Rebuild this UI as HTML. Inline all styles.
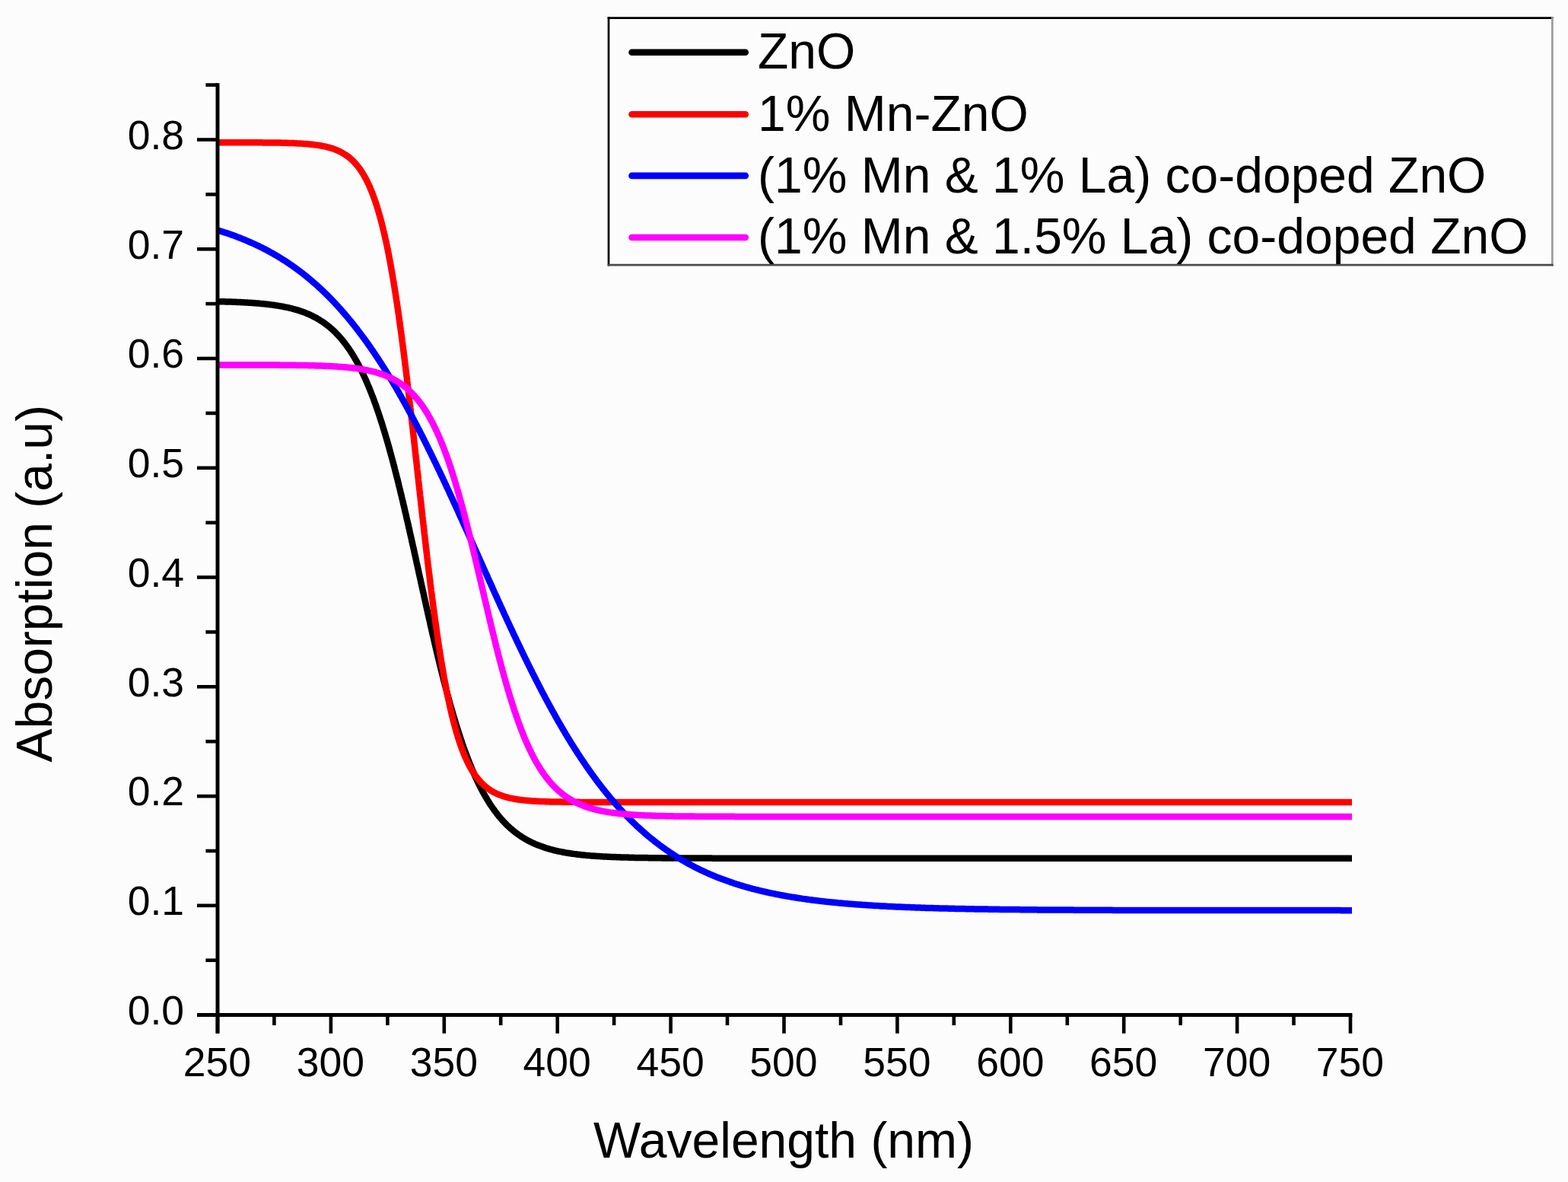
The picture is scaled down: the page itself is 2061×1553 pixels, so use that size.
<!DOCTYPE html>
<html><head><meta charset="utf-8"><title>Absorption spectra</title>
<style>
html,body{margin:0;padding:0;background:#fff;}
body{width:2061px;height:1553px;overflow:hidden;}
svg{display:block;}
text{font-family:"Liberation Sans",Arial,sans-serif;fill:#000;}
</style></head><body>
<svg width="2061" height="1553" viewBox="0 0 2061 1553">
<rect x="0" y="0" width="2061" height="1553" fill="#fcfcfc"/>

<g fill="none" stroke-width="8.5" stroke-linejoin="round" stroke-linecap="butt">
<path d="M286.0,396.1 L287.6,396.2 L289.1,396.2 L290.5,396.2 L292.0,396.3 L293.5,396.3 L295.0,396.3 L296.5,396.4 L298.0,396.4 L299.6,396.5 L301.1,396.5 L302.6,396.6 L304.0,396.6 L305.5,396.7 L307.0,396.7 L308.5,396.8 L310.0,396.8 L311.5,396.9 L313.0,397.0 L314.6,397.0 L316.0,397.1 L317.5,397.2 L319.0,397.2 L320.5,397.3 L322.0,397.4 L323.5,397.5 L325.0,397.6 L326.5,397.7 L328.0,397.8 L329.5,397.8 L331.0,398.0 L332.5,398.1 L334.0,398.2 L335.5,398.3 L337.0,398.4 L338.5,398.5 L340.0,398.6 L341.5,398.8 L343.0,398.9 L344.5,399.0 L345.9,399.2 L347.4,399.3 L348.9,399.5 L350.4,399.7 L351.9,399.8 L353.4,400.0 L354.9,400.2 L356.4,400.4 L357.9,400.6 L359.4,400.8 L360.9,401.0 L362.3,401.2 L363.8,401.4 L365.3,401.7 L366.7,401.9 L368.2,402.2 L369.7,402.4 L371.2,402.7 L372.7,403.0 L374.1,403.3 L375.6,403.6 L377.1,403.9 L378.5,404.2 L380.0,404.5 L381.4,404.9 L382.9,405.2 L384.4,405.6 L385.8,406.0 L387.2,406.4 L388.7,406.8 L390.2,407.2 L391.6,407.6 L393.0,408.1 L394.5,408.6 L395.9,409.1 L397.3,409.5 L398.7,410.1 L400.1,410.6 L401.5,411.1 L402.9,411.7 L404.2,412.2 L405.7,412.8 L407.0,413.4 L408.4,414.1 L409.8,414.7 L411.1,415.4 L412.4,416.1 L413.8,416.8 L415.1,417.4 L416.4,418.2 L417.7,419.0 L419.0,419.7 L420.3,420.5 L421.5,421.3 L422.8,422.1 L424.1,422.9 L425.3,423.8 L426.5,424.6 L427.7,425.5 L428.9,426.4 L430.1,427.3 L431.3,428.3 L432.5,429.2 L433.6,430.2 L434.7,431.1 L435.9,432.1 L437.0,433.1 L438.1,434.1 L439.2,435.2 L440.3,436.2 L441.4,437.3 L442.4,438.4 L443.5,439.5 L444.4,440.5 L445.5,441.6 L446.4,442.7 L447.5,443.9 L448.5,445.0 L449.4,446.2 L450.4,447.4 L451.3,448.5 L452.3,449.7 L453.1,450.8 L454.0,452.0 L454.9,453.2 L455.8,454.4 L456.7,455.7 L457.6,457.0 L458.4,458.1 L459.3,459.3 L460.2,460.7 L461.0,461.9 L461.8,463.2 L462.5,464.4 L463.4,465.7 L464.2,467.0 L464.9,468.2 L465.7,469.5 L466.4,470.8 L467.2,472.2 L468.0,473.5 L468.7,474.7 L469.4,476.0 L470.1,477.4 L470.8,478.6 L471.6,480.1 L472.2,481.3 L472.9,482.6 L473.6,483.9 L474.3,485.4 L474.9,486.6 L475.6,488.0 L476.3,489.4 L476.9,490.8 L477.5,492.0 L478.2,493.5 L478.8,494.8 L479.5,496.2 L480.1,497.5 L480.7,498.9 L481.3,500.2 L481.9,501.8 L482.5,503.1 L483.0,504.4 L483.6,505.8 L484.2,507.2 L484.8,508.6 L485.4,509.9 L486.0,511.4 L486.5,512.8 L487.1,514.1 L487.6,515.5 L488.2,517.0 L488.7,518.3 L489.2,519.7 L489.8,521.0 L490.4,522.6 L490.9,524.0 L491.4,525.4 L491.9,526.8 L492.4,528.3 L492.9,529.5 L493.4,530.9 L493.9,532.4 L494.5,533.9 L494.9,535.2 L495.4,536.6 L495.9,538.2 L496.4,539.5 L496.9,541.0 L497.4,542.3 L497.9,543.9 L498.3,545.2 L498.8,546.5 L499.3,548.1 L499.7,549.5 L500.2,550.9 L500.6,552.3 L501.1,553.7 L501.6,555.3 L502.1,556.7 L502.5,558.1 L503.0,559.6 L503.4,561.0 L503.8,562.4 L504.2,563.7 L504.7,565.1 L505.1,566.6 L505.6,568.1 L506.0,569.6 L506.5,571.1 L506.8,572.3 L507.3,573.8 L507.7,575.4 L508.1,576.6 L508.5,578.2 L509.0,579.7 L509.4,581.0 L509.8,582.6 L510.2,583.9 L510.6,585.5 L511.0,586.8 L511.5,588.4 L511.8,589.7 L512.2,591.1 L512.6,592.7 L513.0,594.0 L513.4,595.4 L513.8,597.0 L514.2,598.4 L514.6,599.8 L515.0,601.2 L515.4,602.8 L515.8,604.2 L516.1,605.6 L516.5,607.0 L516.9,608.4 L517.3,609.9 L517.7,611.6 L518.1,613.0 L518.5,614.4 L518.8,615.9 L519.2,617.3 L519.6,618.8 L519.9,620.2 L520.3,621.7 L520.7,623.1 L521.1,624.6 L521.4,626.1 L521.8,627.6 L522.1,628.7 L522.5,630.2 L522.9,631.7 L523.2,633.2 L523.6,634.7 L524.0,636.2 L524.3,637.7 L524.6,639.0 L525.0,640.5 L525.4,642.0 L525.8,643.5 L526.1,644.8 L526.4,646.3 L526.8,647.8 L527.2,649.4 L527.5,650.6 L527.9,652.2 L528.2,653.7 L528.5,655.0 L528.9,656.5 L529.3,658.1 L529.6,659.4 L529.9,660.9 L530.3,662.5 L530.6,663.8 L531.0,665.4 L531.3,666.6 L531.7,668.2 L532.0,669.8 L532.3,671.1 L532.7,672.7 L533.0,674.0 L533.4,675.6 L533.7,676.9 L534.0,678.5 L534.3,679.8 L534.7,681.4 L535.0,682.7 L535.4,684.4 L535.7,685.7 L536.1,687.3 L536.4,688.6 L536.7,690.2 L537.0,691.5 L537.4,693.2 L537.7,694.5 L538.1,696.1 L538.4,697.5 L538.7,699.1 L539.0,700.4 L539.3,701.8 L539.7,703.4 L540.0,704.7 L540.4,706.4 L540.7,707.7 L541.0,709.1 L541.3,710.7 L541.6,712.1 L542.0,713.7 L542.3,715.1 L542.6,716.4 L543.0,718.1 L543.3,719.4 L543.6,720.8 L544.0,722.4 L544.3,723.8 L544.6,725.5 L544.9,726.8 L545.2,728.1 L545.6,729.8 L545.9,731.2 L546.2,732.5 L546.6,734.2 L546.9,735.6 L547.2,736.9 L547.5,738.6 L547.8,740.0 L548.1,741.3 L548.5,743.0 L548.8,744.3 L549.1,745.7 L549.5,747.4 L549.8,748.7 L550.1,750.1 L550.4,751.8 L550.7,753.1 L551.0,754.5 L551.4,756.2 L551.7,757.5 L552.0,758.9 L552.4,760.6 L552.7,761.9 L553.0,763.3 L553.3,765.0 L553.6,766.3 L553.9,767.7 L554.3,769.4 L554.6,770.7 L554.9,772.1 L555.3,773.8 L555.6,775.1 L555.9,776.5 L556.3,778.2 L556.6,779.5 L556.9,780.9 L557.2,782.5 L557.5,783.9 L557.8,785.2 L558.2,786.9 L558.5,788.3 L558.8,789.6 L559.2,791.3 L559.5,792.6 L559.8,794.3 L560.1,795.6 L560.4,797.0 L560.8,798.6 L561.1,800.0 L561.4,801.3 L561.8,803.0 L562.1,804.3 L562.4,806.0 L562.7,807.3 L563.1,809.0 L563.4,810.3 L563.7,811.6 L564.1,813.3 L564.4,814.6 L564.8,816.2 L565.1,817.5 L565.4,819.2 L565.7,820.5 L566.0,821.8 L566.4,823.4 L566.7,824.7 L567.1,826.4 L567.4,827.7 L567.7,829.3 L568.0,830.6 L568.4,832.2 L568.7,833.5 L569.1,835.1 L569.4,836.4 L569.8,838.0 L570.1,839.6 L570.4,840.9 L570.8,842.5 L571.1,843.8 L571.5,845.4 L571.8,846.6 L572.1,848.2 L572.5,849.8 L572.8,851.1 L573.2,852.7 L573.6,854.2 L573.9,855.5 L574.2,857.0 L574.6,858.6 L574.9,859.9 L575.3,861.4 L575.6,863.0 L575.9,864.2 L576.3,865.7 L576.7,867.3 L577.1,868.8 L577.4,870.0 L577.7,871.6 L578.1,873.1 L578.5,874.6 L578.8,876.1 L579.1,877.3 L579.5,878.8 L579.9,880.3 L580.3,881.8 L580.6,883.3 L581.0,884.8 L581.4,886.3 L581.8,887.7 L582.1,888.9 L582.4,890.4 L582.8,891.8 L583.2,893.3 L583.5,894.7 L583.9,896.2 L584.3,897.6 L584.7,899.4 L585.1,900.8 L585.5,902.2 L585.9,903.6 L586.2,905.0 L586.6,906.5 L587.0,907.9 L587.3,909.3 L587.8,910.9 L588.2,912.3 L588.5,913.7 L588.9,915.1 L589.4,916.7 L589.7,918.1 L590.1,919.4 L590.6,921.1 L590.9,922.4 L591.3,923.7 L591.7,925.3 L592.1,926.7 L592.6,928.3 L592.9,929.6 L593.4,931.1 L593.8,932.4 L594.2,934.0 L594.6,935.3 L595.0,936.8 L595.5,938.4 L595.8,939.6 L596.3,941.2 L596.7,942.7 L597.1,943.9 L597.6,945.4 L598.0,946.9 L598.5,948.4 L598.9,949.8 L599.3,951.1 L599.7,952.5 L600.2,954.0 L600.6,955.4 L601.1,956.8 L601.5,958.2 L602.0,959.6 L602.5,961.3 L602.9,962.7 L603.4,964.1 L603.8,965.4 L604.3,966.8 L604.8,968.4 L605.2,969.7 L605.7,971.1 L606.2,972.6 L606.7,973.9 L607.2,975.5 L607.6,976.8 L608.1,978.3 L608.7,979.8 L609.1,981.1 L609.6,982.5 L610.2,984.0 L610.6,985.2 L611.1,986.7 L611.7,988.1 L612.2,989.5 L612.7,990.9 L613.2,992.3 L613.7,993.7 L614.3,995.1 L614.9,996.7 L615.4,998.0 L615.9,999.3 L616.4,1000.7 L617.0,1002.2 L617.5,1003.5 L618.1,1005.0 L618.7,1006.2 L619.3,1007.7 L619.9,1009.1 L620.4,1010.6 L621.0,1011.8 L621.6,1013.2 L622.2,1014.6 L622.8,1015.9 L623.4,1017.3 L624.0,1018.8 L624.6,1020.1 L625.2,1021.4 L625.9,1022.9 L626.5,1024.2 L627.2,1025.6 L627.8,1026.8 L628.4,1028.2 L629.1,1029.6 L629.8,1031.0 L630.4,1032.3 L631.1,1033.6 L631.8,1035.0 L632.5,1036.3 L633.1,1037.5 L633.9,1038.9 L634.5,1040.2 L635.3,1041.6 L636.0,1042.9 L636.8,1044.2 L637.5,1045.6 L638.3,1046.8 L639.0,1048.1 L639.8,1049.4 L640.5,1050.6 L641.3,1052.0 L642.1,1053.2 L642.9,1054.5 L643.7,1055.8 L644.5,1057.0 L645.3,1058.3 L646.2,1059.5 L647.1,1060.8 L647.9,1062.0 L648.8,1063.2 L649.6,1064.4 L650.5,1065.6 L651.4,1066.8 L652.3,1068.0 L653.3,1069.2 L654.1,1070.4 L655.1,1071.6 L656.0,1072.7 L657.0,1073.9 L657.9,1075.0 L658.9,1076.1 L660.0,1077.3 L660.9,1078.4 L662.0,1079.5 L663.0,1080.6 L664.1,1081.7 L665.1,1082.7 L666.1,1083.8 L667.2,1084.8 L668.3,1085.9 L669.4,1086.9 L670.5,1087.9 L671.7,1088.9 L672.8,1089.9 L673.9,1090.8 L675.1,1091.8 L676.3,1092.7 L677.4,1093.6 L678.6,1094.5 L679.9,1095.5 L681.1,1096.3 L682.3,1097.2 L683.5,1098.0 L684.8,1098.9 L686.1,1099.7 L687.3,1100.5 L688.6,1101.3 L689.9,1102.0 L691.1,1102.8 L692.5,1103.5 L693.8,1104.2 L695.1,1104.9 L696.4,1105.6 L697.8,1106.3 L699.1,1106.9 L700.5,1107.6 L701.9,1108.2 L703.2,1108.8 L704.6,1109.4 L706.0,1110.0 L707.4,1110.5 L708.8,1111.1 L710.2,1111.6 L711.6,1112.1 L713.0,1112.6 L714.4,1113.1 L715.9,1113.6 L717.3,1114.1 L718.7,1114.5 L720.1,1114.9 L721.5,1115.3 L723.0,1115.8 L724.5,1116.1 L725.9,1116.5 L727.4,1116.9 L728.8,1117.3 L730.3,1117.6 L731.8,1118.0 L733.2,1118.3 L734.7,1118.6 L736.2,1118.9 L737.6,1119.2 L739.1,1119.5 L740.6,1119.8 L742.0,1120.0 L743.5,1120.3 L745.0,1120.6 L746.4,1120.8 L747.9,1121.0 L749.4,1121.2 L750.9,1121.5 L752.4,1121.7 L753.9,1121.9 L755.4,1122.1 L756.9,1122.3 L758.4,1122.5 L759.9,1122.7 L761.4,1122.8 L762.8,1123.0 L764.3,1123.2 L765.8,1123.3 L767.3,1123.5 L768.8,1123.6 L770.3,1123.8 L771.8,1123.9 L773.3,1124.0 L774.8,1124.1 L776.3,1124.3 L777.8,1124.4 L779.2,1124.5 L780.7,1124.6 L782.2,1124.7 L783.7,1124.8 L785.2,1124.9 L786.7,1125.0 L788.2,1125.1 L789.8,1125.2 L791.3,1125.3 L792.7,1125.4 L794.2,1125.5 L795.7,1125.5 L797.2,1125.6 L798.7,1125.7 L800.2,1125.8 L801.7,1125.8 L803.2,1125.9 L804.7,1126.0 L806.2,1126.0 L807.7,1126.1 L809.2,1126.1 L810.7,1126.2 L812.2,1126.2 L813.7,1126.3 L815.2,1126.3 L816.7,1126.4 L818.2,1126.4 L819.7,1126.5 L821.2,1126.5 L822.7,1126.6 L824.2,1126.6 L825.7,1126.6 L827.2,1126.7 L828.7,1126.7 L830.2,1126.8 L831.7,1126.8 L833.2,1126.8 L834.7,1126.9 L836.2,1126.9 L837.7,1126.9 L839.2,1126.9 L840.7,1127.0 L842.2,1127.0 L843.7,1127.0 L845.2,1127.0 L846.7,1127.1 L848.2,1127.1 L849.7,1127.1 L851.2,1127.1 L852.7,1127.2 L854.2,1127.2 L855.7,1127.2 L857.2,1127.2 L858.7,1127.2 L860.2,1127.2 L861.7,1127.3 L863.2,1127.3 L864.7,1127.3 L866.2,1127.3 L867.7,1127.3 L869.2,1127.3 L870.7,1127.4 L872.2,1127.4 L873.7,1127.4 L875.2,1127.4 L876.7,1127.4 L878.2,1127.4 L879.7,1127.4 L881.2,1127.4 L882.7,1127.4 L884.2,1127.5 L885.7,1127.5 L887.2,1127.5 L888.7,1127.5 L890.2,1127.5 L891.7,1127.5 L893.2,1127.5 L894.7,1127.5 L896.2,1127.5 L897.7,1127.5 L899.2,1127.5 L900.7,1127.5 L902.2,1127.6 L903.7,1127.6 L905.2,1127.6 L906.7,1127.6 L908.2,1127.6 L909.7,1127.6 L911.2,1127.6 L912.7,1127.6 L914.2,1127.6 L915.7,1127.6 L917.2,1127.6 L918.7,1127.6 L920.2,1127.6 L921.7,1127.6 L923.2,1127.6 L924.7,1127.6 L926.2,1127.6 L927.7,1127.6 L929.2,1127.6 L930.7,1127.6 L932.2,1127.6 L933.7,1127.6 L935.2,1127.6 L936.7,1127.7 L938.2,1127.7 L939.7,1127.7 L941.2,1127.7 L942.7,1127.7 L944.2,1127.7 L945.7,1127.7 L947.2,1127.7 L948.7,1127.7 L950.2,1127.7 L951.7,1127.7 L953.2,1127.7 L954.7,1127.7 L956.2,1127.7 L957.7,1127.7 L959.2,1127.7 L960.7,1127.7 L962.2,1127.7 L963.7,1127.7 L965.2,1127.7 L966.7,1127.7 L968.2,1127.7 L969.7,1127.7 L971.2,1127.7 L972.7,1127.7 L974.2,1127.7 L975.7,1127.7 L977.2,1127.7 L978.7,1127.7 L980.2,1127.7 L981.7,1127.7 L983.2,1127.7 L984.7,1127.7 L986.2,1127.7 L987.7,1127.7 L989.2,1127.7 L990.7,1127.7 L992.2,1127.7 L993.7,1127.7 L995.2,1127.7 L996.7,1127.7 L998.2,1127.7 L999.7,1127.7 L1001.2,1127.7 L1002.7,1127.7 L1004.2,1127.7 L1005.7,1127.7 L1007.2,1127.7 L1008.7,1127.7 L1010.2,1127.7 L1011.7,1127.7 L1013.2,1127.7 L1014.7,1127.7 L1016.2,1127.7 L1017.7,1127.7 L1019.2,1127.7 L1020.7,1127.7 L1022.2,1127.7 L1023.7,1127.7 L1025.2,1127.7 L1026.7,1127.7 L1028.2,1127.7 L1029.7,1127.7 L1031.2,1127.7 L1032.7,1127.7 L1034.2,1127.7 L1035.7,1127.7 L1037.2,1127.7 L1038.7,1127.7 L1040.2,1127.7 L1041.7,1127.7 L1043.2,1127.7 L1044.7,1127.7 L1046.2,1127.7 L1047.7,1127.7 L1049.2,1127.7 L1050.7,1127.7 L1052.2,1127.7 L1053.7,1127.7 L1055.2,1127.7 L1056.7,1127.7 L1058.2,1127.7 L1059.7,1127.7 L1061.2,1127.7 L1062.7,1127.7 L1064.2,1127.7 L1065.7,1127.7 L1067.2,1127.7 L1068.7,1127.7 L1070.2,1127.7 L1071.7,1127.7 L1073.2,1127.7 L1074.7,1127.7 L1076.2,1127.7 L1077.7,1127.7 L1079.2,1127.7 L1080.7,1127.7 L1082.2,1127.7 L1083.7,1127.7 L1085.2,1127.7 L1086.7,1127.7 L1088.2,1127.7 L1089.7,1127.7 L1091.2,1127.7 L1092.7,1127.7 L1094.2,1127.7 L1095.7,1127.7 L1097.2,1127.7 L1098.7,1127.7 L1100.2,1127.7 L1101.7,1127.7 L1103.2,1127.7 L1104.7,1127.7 L1106.2,1127.7 L1107.7,1127.7 L1109.2,1127.7 L1110.7,1127.7 L1112.2,1127.7 L1113.7,1127.7 L1115.2,1127.7 L1116.7,1127.7 L1118.2,1127.7 L1119.7,1127.7 L1121.2,1127.7 L1122.7,1127.7 L1124.2,1127.7 L1125.7,1127.7 L1127.2,1127.7 L1128.7,1127.7 L1130.2,1127.7 L1131.7,1127.7 L1133.2,1127.7 L1134.7,1127.7 L1136.2,1127.7 L1137.7,1127.7 L1139.2,1127.7 L1140.7,1127.7 L1142.2,1127.7 L1143.7,1127.7 L1145.2,1127.7 L1146.7,1127.7 L1148.2,1127.7 L1149.7,1127.7 L1151.2,1127.7 L1152.7,1127.7 L1154.2,1127.7 L1155.7,1127.7 L1157.2,1127.7 L1158.7,1127.7 L1160.2,1127.7 L1161.7,1127.7 L1163.2,1127.7 L1164.7,1127.7 L1166.2,1127.7 L1167.7,1127.7 L1169.2,1127.7 L1170.7,1127.7 L1172.2,1127.7 L1173.7,1127.7 L1175.2,1127.7 L1176.7,1127.7 L1178.2,1127.7 L1179.7,1127.7 L1181.2,1127.7 L1182.7,1127.7 L1184.2,1127.7 L1185.7,1127.7 L1187.2,1127.7 L1188.7,1127.7 L1190.2,1127.7 L1191.7,1127.7 L1193.2,1127.7 L1194.7,1127.7 L1196.2,1127.7 L1197.7,1127.7 L1199.2,1127.7 L1200.7,1127.7 L1202.2,1127.7 L1203.7,1127.7 L1205.2,1127.7 L1206.7,1127.7 L1208.2,1127.7 L1209.7,1127.7 L1211.2,1127.7 L1212.7,1127.7 L1214.2,1127.7 L1215.7,1127.7 L1217.2,1127.7 L1218.7,1127.7 L1220.2,1127.7 L1221.7,1127.7 L1223.2,1127.7 L1224.7,1127.7 L1226.2,1127.7 L1227.7,1127.7 L1229.2,1127.7 L1230.7,1127.7 L1232.2,1127.7 L1233.7,1127.7 L1235.2,1127.7 L1236.7,1127.7 L1238.2,1127.7 L1239.7,1127.7 L1241.2,1127.7 L1242.7,1127.7 L1244.2,1127.7 L1245.7,1127.7 L1247.2,1127.7 L1248.7,1127.7 L1250.2,1127.7 L1251.7,1127.7 L1253.2,1127.7 L1254.7,1127.7 L1256.2,1127.7 L1257.7,1127.7 L1259.2,1127.7 L1260.7,1127.7 L1262.2,1127.7 L1263.7,1127.7 L1265.2,1127.7 L1266.7,1127.7 L1268.2,1127.7 L1269.7,1127.7 L1271.2,1127.7 L1272.7,1127.7 L1274.2,1127.7 L1275.7,1127.7 L1277.2,1127.7 L1278.7,1127.7 L1280.2,1127.7 L1281.7,1127.7 L1283.2,1127.7 L1284.7,1127.7 L1286.2,1127.7 L1287.7,1127.7 L1289.2,1127.7 L1290.7,1127.7 L1292.2,1127.7 L1293.7,1127.7 L1295.2,1127.7 L1296.7,1127.7 L1298.2,1127.7 L1299.7,1127.7 L1301.2,1127.7 L1302.7,1127.7 L1304.2,1127.7 L1305.7,1127.7 L1307.2,1127.7 L1308.7,1127.7 L1310.2,1127.7 L1311.7,1127.7 L1313.2,1127.7 L1314.7,1127.7 L1316.2,1127.7 L1317.7,1127.7 L1319.2,1127.7 L1320.7,1127.7 L1322.2,1127.7 L1323.7,1127.7 L1325.2,1127.7 L1326.7,1127.7 L1328.2,1127.7 L1329.7,1127.7 L1331.2,1127.7 L1332.7,1127.7 L1334.2,1127.7 L1335.7,1127.7 L1337.2,1127.7 L1338.7,1127.7 L1340.2,1127.7 L1341.7,1127.7 L1343.2,1127.7 L1344.7,1127.7 L1346.2,1127.7 L1347.7,1127.7 L1349.2,1127.7 L1350.7,1127.7 L1352.2,1127.7 L1353.7,1127.7 L1355.2,1127.7 L1356.7,1127.7 L1358.2,1127.7 L1359.7,1127.7 L1361.2,1127.7 L1362.7,1127.7 L1364.2,1127.7 L1365.7,1127.7 L1367.2,1127.7 L1368.7,1127.7 L1370.2,1127.7 L1371.7,1127.7 L1373.2,1127.7 L1374.7,1127.7 L1376.2,1127.7 L1377.7,1127.7 L1379.2,1127.7 L1380.7,1127.7 L1382.2,1127.7 L1383.7,1127.7 L1385.2,1127.7 L1386.7,1127.7 L1388.2,1127.7 L1389.7,1127.7 L1391.2,1127.7 L1392.7,1127.7 L1394.2,1127.7 L1395.7,1127.7 L1397.2,1127.7 L1398.7,1127.7 L1400.2,1127.7 L1401.7,1127.7 L1403.2,1127.7 L1404.7,1127.7 L1406.2,1127.7 L1407.7,1127.7 L1409.2,1127.7 L1410.7,1127.7 L1412.2,1127.7 L1413.7,1127.7 L1415.2,1127.7 L1416.7,1127.7 L1418.2,1127.7 L1419.7,1127.7 L1421.2,1127.7 L1422.7,1127.7 L1424.2,1127.7 L1425.7,1127.7 L1427.2,1127.7 L1428.7,1127.7 L1430.2,1127.7 L1431.7,1127.7 L1433.2,1127.7 L1434.7,1127.7 L1436.2,1127.7 L1437.7,1127.7 L1439.2,1127.7 L1440.7,1127.7 L1442.2,1127.7 L1443.7,1127.7 L1445.2,1127.7 L1446.7,1127.7 L1448.2,1127.7 L1449.7,1127.7 L1451.2,1127.7 L1452.7,1127.7 L1454.2,1127.7 L1455.7,1127.7 L1457.2,1127.7 L1458.7,1127.7 L1460.2,1127.7 L1461.7,1127.7 L1463.2,1127.7 L1464.7,1127.7 L1466.2,1127.7 L1467.7,1127.7 L1469.2,1127.7 L1470.7,1127.7 L1472.2,1127.7 L1473.7,1127.7 L1475.2,1127.7 L1476.7,1127.7 L1478.2,1127.7 L1479.7,1127.7 L1481.2,1127.7 L1482.7,1127.7 L1484.2,1127.7 L1485.7,1127.7 L1487.2,1127.7 L1488.7,1127.7 L1490.2,1127.7 L1491.7,1127.7 L1493.2,1127.7 L1494.7,1127.7 L1496.2,1127.7 L1497.7,1127.7 L1499.2,1127.7 L1500.7,1127.7 L1502.2,1127.7 L1503.7,1127.7 L1505.2,1127.7 L1506.7,1127.7 L1508.2,1127.7 L1509.7,1127.7 L1511.2,1127.7 L1512.7,1127.7 L1514.2,1127.7 L1515.7,1127.7 L1517.2,1127.7 L1518.7,1127.7 L1520.2,1127.7 L1521.7,1127.7 L1523.2,1127.7 L1524.7,1127.7 L1526.2,1127.7 L1527.7,1127.7 L1529.2,1127.7 L1530.7,1127.7 L1532.2,1127.7 L1533.7,1127.7 L1535.2,1127.7 L1536.7,1127.7 L1538.2,1127.7 L1539.7,1127.7 L1541.2,1127.7 L1542.7,1127.7 L1544.2,1127.7 L1545.7,1127.7 L1547.2,1127.7 L1548.7,1127.7 L1550.2,1127.7 L1551.7,1127.7 L1553.2,1127.7 L1554.7,1127.7 L1556.2,1127.7 L1557.7,1127.7 L1559.2,1127.7 L1560.7,1127.7 L1562.2,1127.7 L1563.7,1127.7 L1565.2,1127.7 L1566.7,1127.7 L1568.2,1127.7 L1569.7,1127.7 L1571.2,1127.7 L1572.7,1127.7 L1574.2,1127.7 L1575.7,1127.7 L1577.2,1127.7 L1578.7,1127.7 L1580.2,1127.7 L1581.7,1127.7 L1583.2,1127.7 L1584.7,1127.7 L1586.2,1127.7 L1587.7,1127.7 L1589.2,1127.7 L1590.7,1127.7 L1592.2,1127.7 L1593.7,1127.7 L1595.2,1127.7 L1596.7,1127.7 L1598.2,1127.7 L1599.7,1127.7 L1601.2,1127.7 L1602.7,1127.7 L1604.2,1127.7 L1605.7,1127.7 L1607.2,1127.7 L1608.7,1127.7 L1610.2,1127.7 L1611.7,1127.7 L1613.2,1127.7 L1614.7,1127.7 L1616.2,1127.7 L1617.7,1127.7 L1619.2,1127.7 L1620.7,1127.7 L1622.2,1127.7 L1623.7,1127.7 L1625.2,1127.7 L1626.7,1127.7 L1628.2,1127.7 L1629.7,1127.7 L1631.2,1127.7 L1632.7,1127.7 L1634.2,1127.7 L1635.7,1127.7 L1637.2,1127.7 L1638.7,1127.7 L1640.2,1127.7 L1641.7,1127.7 L1643.2,1127.7 L1644.7,1127.7 L1646.2,1127.7 L1647.7,1127.7 L1649.2,1127.7 L1650.7,1127.7 L1652.2,1127.7 L1653.7,1127.7 L1655.2,1127.7 L1656.7,1127.7 L1658.2,1127.7 L1659.7,1127.7 L1661.2,1127.7 L1662.7,1127.7 L1664.2,1127.7 L1665.7,1127.7 L1667.2,1127.7 L1668.7,1127.7 L1670.2,1127.7 L1671.7,1127.7 L1673.2,1127.7 L1674.7,1127.7 L1676.2,1127.7 L1677.7,1127.7 L1679.2,1127.7 L1680.7,1127.7 L1682.2,1127.7 L1683.7,1127.7 L1685.2,1127.7 L1686.7,1127.7 L1688.2,1127.7 L1689.7,1127.7 L1691.2,1127.7 L1692.7,1127.7 L1694.2,1127.7 L1695.7,1127.7 L1697.2,1127.7 L1698.7,1127.7 L1700.2,1127.7 L1701.7,1127.7 L1703.2,1127.7 L1704.7,1127.7 L1706.2,1127.7 L1707.7,1127.7 L1709.2,1127.7 L1710.7,1127.7 L1712.2,1127.7 L1713.7,1127.7 L1715.2,1127.7 L1716.7,1127.7 L1718.2,1127.7 L1719.7,1127.7 L1721.2,1127.7 L1722.7,1127.7 L1724.2,1127.7 L1725.7,1127.7 L1727.2,1127.7 L1728.7,1127.7 L1730.2,1127.7 L1731.7,1127.7 L1733.2,1127.7 L1734.7,1127.7 L1736.2,1127.7 L1737.7,1127.7 L1739.2,1127.7 L1740.7,1127.7 L1742.2,1127.7 L1743.7,1127.7 L1745.2,1127.7 L1746.7,1127.7 L1748.2,1127.7 L1749.7,1127.7 L1751.2,1127.7 L1752.7,1127.7 L1754.2,1127.7 L1755.7,1127.7 L1757.2,1127.7 L1758.7,1127.7 L1760.2,1127.7 L1761.7,1127.7 L1763.2,1127.7 L1764.7,1127.7 L1766.2,1127.7 L1767.7,1127.7 L1769.2,1127.7 L1770.7,1127.7 L1772.2,1127.7 L1773.7,1127.7 L1775.2,1127.7 L1776.7,1127.7 L1777.0,1127.7" stroke="#000000"/>
<path d="M286.0,187.2 L287.6,187.2 L289.1,187.2 L290.5,187.2 L292.0,187.2 L293.5,187.2 L295.0,187.2 L296.5,187.2 L298.0,187.2 L299.6,187.2 L301.1,187.2 L302.6,187.2 L304.0,187.2 L305.5,187.2 L307.0,187.2 L308.5,187.2 L310.0,187.2 L311.6,187.2 L313.1,187.2 L314.6,187.2 L316.0,187.2 L317.5,187.2 L319.0,187.2 L320.5,187.2 L322.0,187.2 L323.5,187.2 L325.1,187.2 L326.6,187.3 L328.0,187.3 L329.5,187.3 L331.0,187.3 L332.5,187.3 L334.0,187.3 L335.5,187.3 L337.1,187.3 L338.6,187.3 L340.1,187.3 L341.5,187.3 L343.0,187.3 L344.5,187.3 L346.0,187.4 L347.5,187.4 L349.1,187.4 L350.6,187.4 L352.1,187.4 L353.5,187.4 L355.0,187.4 L356.5,187.4 L358.0,187.5 L359.5,187.5 L361.0,187.5 L362.6,187.5 L364.1,187.6 L365.5,187.6 L367.0,187.6 L368.5,187.6 L370.0,187.7 L371.5,187.7 L373.0,187.7 L374.6,187.8 L376.1,187.8 L377.6,187.8 L379.0,187.9 L380.5,187.9 L382.0,188.0 L383.5,188.0 L385.0,188.1 L386.5,188.1 L388.0,188.2 L389.6,188.3 L391.0,188.4 L392.5,188.4 L394.0,188.5 L395.5,188.6 L397.0,188.7 L398.5,188.8 L400.0,188.9 L401.5,189.0 L403.0,189.1 L404.5,189.2 L406.0,189.4 L407.4,189.5 L408.9,189.7 L410.4,189.8 L411.9,190.0 L413.4,190.2 L414.9,190.4 L416.4,190.6 L417.9,190.8 L419.4,191.0 L420.9,191.3 L422.4,191.5 L423.8,191.8 L425.3,192.1 L426.8,192.4 L428.2,192.7 L429.7,193.1 L431.2,193.5 L432.6,193.8 L434.0,194.2 L435.5,194.7 L436.9,195.1 L438.3,195.6 L439.7,196.1 L441.1,196.7 L442.5,197.2 L443.9,197.8 L445.2,198.4 L446.6,199.1 L447.9,199.8 L449.3,200.5 L450.6,201.2 L451.9,202.0 L453.1,202.8 L454.4,203.6 L455.6,204.4 L456.9,205.3 L458.1,206.2 L459.2,207.1 L460.4,208.1 L461.5,209.1 L462.6,210.1 L463.7,211.1 L464.8,212.2 L465.8,213.3 L466.8,214.4 L467.8,215.6 L468.8,216.7 L469.8,217.9 L470.7,219.0 L471.6,220.2 L472.5,221.4 L473.4,222.6 L474.2,223.9 L475.1,225.1 L475.9,226.4 L476.6,227.6 L477.5,228.9 L478.2,230.2 L478.9,231.5 L479.7,232.8 L480.4,234.2 L481.1,235.4 L481.8,236.7 L482.5,238.2 L483.1,239.4 L483.8,240.8 L484.5,242.2 L485.1,243.5 L485.7,244.9 L486.3,246.2 L486.8,247.6 L487.4,249.0 L488.0,250.5 L488.6,251.8 L489.2,253.3 L489.7,254.6 L490.2,256.0 L490.7,257.4 L491.2,258.8 L491.8,260.3 L492.3,261.7 L492.7,263.0 L493.3,264.5 L493.7,265.9 L494.2,267.4 L494.7,268.8 L495.1,270.2 L495.6,271.6 L496.0,273.1 L496.5,274.5 L496.9,276.0 L497.4,277.5 L497.7,278.8 L498.2,280.3 L498.6,281.9 L499.0,283.2 L499.4,284.5 L499.8,286.2 L500.2,287.5 L500.6,288.9 L500.9,290.3 L501.3,291.8 L501.8,293.5 L502.1,294.9 L502.4,296.1 L502.8,297.6 L503.2,299.1 L503.5,300.7 L503.9,302.2 L504.2,303.5 L504.6,305.0 L505.0,306.6 L505.3,307.9 L505.6,309.5 L505.9,310.9 L506.2,312.2 L506.6,313.9 L506.9,315.2 L507.2,316.6 L507.6,318.3 L507.9,319.7 L508.2,321.1 L508.5,322.5 L508.8,324.0 L509.1,325.4 L509.4,326.9 L509.7,328.3 L510.0,329.8 L510.3,331.3 L510.6,332.8 L510.9,334.3 L511.2,335.8 L511.5,337.4 L511.7,338.9 L512.0,340.1 L512.3,341.7 L512.6,343.3 L512.9,344.9 L513.1,346.1 L513.4,347.7 L513.6,348.9 L513.9,350.6 L514.2,352.2 L514.4,353.5 L514.7,355.2 L515.0,356.4 L515.3,358.2 L515.5,359.4 L515.8,361.2 L516.0,362.5 L516.2,363.8 L516.5,365.5 L516.7,366.9 L517.0,368.2 L517.3,370.0 L517.5,371.3 L517.7,372.7 L517.9,374.1 L518.2,375.9 L518.5,377.3 L518.7,378.7 L518.9,380.1 L519.1,381.5 L519.4,383.4 L519.7,384.8 L519.9,386.2 L520.1,387.7 L520.3,389.1 L520.5,390.6 L520.8,392.0 L521.0,393.5 L521.2,395.0 L521.4,396.4 L521.7,397.9 L521.9,399.4 L522.1,400.9 L522.3,402.4 L522.6,403.9 L522.8,405.5 L523.0,407.0 L523.2,408.5 L523.5,410.1 L523.7,411.6 L523.8,412.7 L524.1,414.2 L524.3,415.8 L524.5,417.4 L524.7,419.0 L524.9,420.5 L525.1,421.6 L525.3,423.2 L525.5,424.8 L525.8,426.4 L525.9,427.5 L526.1,429.1 L526.4,430.8 L526.6,432.4 L526.7,433.5 L527.0,435.2 L527.2,436.8 L527.3,437.9 L527.6,439.6 L527.8,441.3 L527.9,442.4 L528.2,444.1 L528.4,445.8 L528.5,446.9 L528.7,448.6 L529.0,450.3 L529.1,451.5 L529.3,453.2 L529.5,454.3 L529.7,456.1 L529.9,457.2 L530.1,459.0 L530.3,460.7 L530.5,461.9 L530.7,463.6 L530.8,464.8 L531.1,466.6 L531.2,467.8 L531.4,469.5 L531.6,470.7 L531.8,472.5 L532.0,473.7 L532.2,475.5 L532.3,476.7 L532.5,478.5 L532.7,479.7 L532.9,481.5 L533.1,482.7 L533.3,484.5 L533.4,485.8 L533.6,487.0 L533.8,488.8 L534.0,490.0 L534.2,491.9 L534.3,493.1 L534.6,495.0 L534.7,496.2 L534.9,497.5 L535.1,499.3 L535.2,500.6 L535.5,502.4 L535.6,503.7 L535.8,504.9 L536.0,506.8 L536.1,508.1 L536.3,509.3 L536.5,511.2 L536.6,512.5 L536.9,514.4 L537.0,515.7 L537.2,516.9 L537.4,518.8 L537.5,520.1 L537.7,521.4 L537.9,523.3 L538.1,524.6 L538.2,525.9 L538.4,527.8 L538.6,529.1 L538.7,530.4 L538.9,531.7 L539.1,533.6 L539.3,534.9 L539.4,536.2 L539.6,538.2 L539.8,539.5 L539.9,540.8 L540.2,542.7 L540.3,544.0 L540.5,545.4 L540.6,546.7 L540.8,548.6 L541.0,549.9 L541.1,551.3 L541.3,552.6 L541.5,554.5 L541.6,555.9 L541.8,557.2 L541.9,558.5 L542.2,560.5 L542.3,561.8 L542.5,563.1 L542.6,564.5 L542.8,566.5 L543.0,567.8 L543.1,569.1 L543.3,570.4 L543.5,572.4 L543.7,573.8 L543.8,575.1 L544.0,576.4 L544.2,578.5 L544.3,579.8 L544.5,581.1 L544.6,582.5 L544.9,584.5 L545.0,585.8 L545.1,587.2 L545.3,588.5 L545.4,589.8 L545.7,591.9 L545.8,593.2 L546.0,594.5 L546.1,595.9 L546.3,597.9 L546.5,599.3 L546.6,600.6 L546.8,601.9 L546.9,603.3 L547.2,605.3 L547.3,606.7 L547.5,608.0 L547.6,609.4 L547.8,610.7 L548.0,612.7 L548.1,614.1 L548.3,615.4 L548.4,616.8 L548.6,618.1 L548.8,620.1 L549.0,621.5 L549.1,622.8 L549.2,624.2 L549.5,626.2 L549.6,627.6 L549.8,628.9 L549.9,630.3 L550.1,631.6 L550.3,633.6 L550.4,635.0 L550.6,636.3 L550.7,637.7 L550.9,639.0 L551.1,641.0 L551.3,642.4 L551.4,643.7 L551.6,645.1 L551.8,647.1 L551.9,648.4 L552.1,649.8 L552.2,651.1 L552.4,652.5 L552.6,654.5 L552.8,655.8 L552.9,657.2 L553.1,658.5 L553.3,660.5 L553.4,661.8 L553.6,663.2 L553.7,664.5 L553.9,665.8 L554.1,667.8 L554.2,669.2 L554.4,670.5 L554.5,671.8 L554.8,673.8 L554.9,675.2 L555.1,676.5 L555.2,677.8 L555.4,679.8 L555.6,681.1 L555.7,682.4 L555.9,683.8 L556.1,685.7 L556.3,687.1 L556.4,688.4 L556.6,689.7 L556.8,691.7 L556.9,693.0 L557.1,694.3 L557.3,696.3 L557.5,697.6 L557.6,698.9 L557.7,700.2 L558.0,702.1 L558.1,703.4 L558.3,704.7 L558.5,706.7 L558.6,708.0 L558.8,709.3 L558.9,710.5 L559.2,712.5 L559.3,713.8 L559.5,715.1 L559.7,717.0 L559.8,718.3 L560.0,719.5 L560.2,721.5 L560.4,722.7 L560.5,724.0 L560.7,725.9 L560.9,727.2 L561.0,728.4 L561.3,730.3 L561.4,731.6 L561.6,733.5 L561.8,734.7 L561.9,736.0 L562.1,737.9 L562.3,739.1 L562.4,740.4 L562.7,742.2 L562.8,743.5 L563.0,745.3 L563.2,746.6 L563.3,747.8 L563.6,749.6 L563.7,750.9 L563.9,752.7 L564.1,753.9 L564.3,755.8 L564.5,757.0 L564.7,758.8 L564.8,760.0 L565.0,761.2 L565.2,763.0 L565.4,764.2 L565.6,766.0 L565.7,767.2 L565.9,769.0 L566.1,770.2 L566.3,772.0 L566.5,773.1 L566.7,774.9 L566.8,776.1 L567.1,777.9 L567.3,779.6 L567.4,780.8 L567.7,782.5 L567.8,783.7 L568.0,785.4 L568.2,786.6 L568.4,788.3 L568.6,790.0 L568.8,791.1 L569.0,792.8 L569.2,794.0 L569.4,795.7 L569.6,797.4 L569.8,798.5 L570.0,800.2 L570.2,801.8 L570.3,802.9 L570.6,804.6 L570.8,806.3 L570.9,807.4 L571.2,809.0 L571.4,810.6 L571.6,812.3 L571.8,813.3 L572.0,815.0 L572.2,816.6 L572.4,818.2 L572.6,819.2 L572.8,820.8 L573.0,822.4 L573.3,824.0 L573.5,825.6 L573.6,826.6 L573.9,828.2 L574.1,829.7 L574.3,831.3 L574.5,832.8 L574.7,834.4 L575.0,835.9 L575.2,837.4 L575.4,838.9 L575.6,840.4 L575.9,841.9 L576.1,843.4 L576.3,844.9 L576.5,846.4 L576.8,847.8 L577.0,849.3 L577.2,850.8 L577.4,852.2 L577.7,853.6 L577.9,855.1 L578.1,856.5 L578.3,857.9 L578.5,859.3 L578.8,860.7 L579.1,862.6 L579.3,864.0 L579.5,865.4 L579.7,866.7 L580.0,868.6 L580.3,869.9 L580.5,871.3 L580.7,872.6 L581.0,874.4 L581.2,875.7 L581.5,877.0 L581.8,878.8 L582.0,880.1 L582.3,881.8 L582.5,883.1 L582.8,884.8 L583.0,886.0 L583.3,887.7 L583.5,889.0 L583.8,890.6 L584.1,891.9 L584.4,893.5 L584.7,895.1 L584.9,896.3 L585.2,897.9 L585.5,899.5 L585.7,900.7 L586.0,902.2 L586.3,903.8 L586.6,905.3 L586.9,906.9 L587.2,908.4 L587.4,909.5 L587.7,911.0 L588.0,912.5 L588.3,913.9 L588.6,915.4 L588.9,916.8 L589.3,918.6 L589.6,920.0 L589.9,921.4 L590.2,922.8 L590.5,924.2 L590.9,925.9 L591.1,927.2 L591.4,928.6 L591.8,930.2 L592.1,931.6 L592.5,933.2 L592.8,934.5 L593.2,936.1 L593.5,937.3 L593.8,938.9 L594.2,940.4 L594.6,941.9 L594.9,943.2 L595.2,944.6 L595.6,946.1 L596.0,947.6 L596.4,949.0 L596.7,950.4 L597.2,952.1 L597.6,953.5 L597.9,954.9 L598.3,956.2 L598.8,957.9 L599.1,959.2 L599.6,960.7 L599.9,962.0 L600.4,963.5 L600.8,965.0 L601.3,966.5 L601.7,967.7 L602.1,969.2 L602.6,970.6 L603.1,972.2 L603.5,973.6 L604.0,974.9 L604.5,976.5 L604.9,977.8 L605.5,979.3 L605.9,980.5 L606.4,982.0 L607.0,983.4 L607.5,984.8 L608.0,986.2 L608.6,987.7 L609.1,989.0 L609.7,990.5 L610.2,991.8 L610.8,993.2 L611.4,994.6 L612.0,995.9 L612.6,997.3 L613.3,998.7 L613.9,1000.0 L614.6,1001.4 L615.2,1002.8 L615.9,1004.1 L616.6,1005.4 L617.2,1006.7 L618.0,1008.0 L618.7,1009.4 L619.5,1010.7 L620.2,1011.9 L621.0,1013.3 L621.8,1014.5 L622.6,1015.7 L623.4,1017.0 L624.3,1018.3 L625.1,1019.4 L626.0,1020.6 L626.9,1021.8 L627.9,1023.0 L628.9,1024.2 L629.8,1025.3 L630.8,1026.4 L631.9,1027.6 L632.9,1028.7 L633.9,1029.7 L635.0,1030.7 L636.1,1031.7 L637.2,1032.7 L638.3,1033.7 L639.5,1034.6 L640.7,1035.6 L641.9,1036.4 L643.2,1037.3 L644.5,1038.2 L645.7,1039.0 L647.0,1039.7 L648.3,1040.4 L649.6,1041.2 L650.9,1041.8 L652.3,1042.5 L653.6,1043.1 L655.0,1043.7 L656.4,1044.3 L657.8,1044.8 L659.2,1045.3 L660.6,1045.8 L662.0,1046.3 L663.5,1046.7 L665.0,1047.2 L666.4,1047.5 L667.9,1047.9 L669.3,1048.3 L670.8,1048.6 L672.2,1048.9 L673.7,1049.2 L675.2,1049.5 L676.7,1049.8 L678.1,1050.0 L679.6,1050.3 L681.1,1050.5 L682.6,1050.7 L684.0,1050.9 L685.5,1051.1 L687.0,1051.2 L688.5,1051.4 L690.0,1051.6 L691.5,1051.7 L693.0,1051.8 L694.5,1052.0 L696.0,1052.1 L697.5,1052.2 L699.0,1052.3 L700.4,1052.4 L701.9,1052.5 L703.5,1052.6 L705.0,1052.7 L706.5,1052.8 L708.0,1052.8 L709.5,1052.9 L711.0,1053.0 L712.4,1053.0 L713.9,1053.1 L715.4,1053.1 L716.9,1053.2 L718.5,1053.2 L720.0,1053.3 L721.5,1053.3 L723.0,1053.4 L724.5,1053.4 L725.9,1053.4 L727.4,1053.5 L728.9,1053.5 L730.5,1053.5 L732.0,1053.5 L733.5,1053.6 L735.0,1053.6 L736.5,1053.6 L737.9,1053.6 L739.4,1053.7 L740.9,1053.7 L742.4,1053.7 L744.0,1053.7 L745.5,1053.7 L747.0,1053.7 L748.5,1053.8 L749.9,1053.8 L751.4,1053.8 L752.9,1053.8 L754.4,1053.8 L756.0,1053.8 L757.5,1053.8 L759.0,1053.8 L760.5,1053.8 L762.0,1053.9 L763.4,1053.9 L764.9,1053.9 L766.4,1053.9 L767.9,1053.9 L769.5,1053.9 L771.0,1053.9 L772.5,1053.9 L774.0,1053.9 L775.4,1053.9 L776.9,1053.9 L778.4,1053.9 L779.9,1053.9 L781.5,1053.9 L783.0,1053.9 L784.5,1053.9 L786.0,1053.9 L787.4,1053.9 L788.9,1053.9 L790.4,1053.9 L791.9,1053.9 L793.5,1053.9 L795.0,1053.9 L796.5,1053.9 L798.0,1053.9 L799.5,1053.9 L800.9,1053.9 L802.4,1053.9 L803.9,1054.0 L805.4,1054.0 L807.0,1054.0 L808.5,1054.0 L810.0,1054.0 L811.5,1054.0 L812.9,1054.0 L814.4,1054.0 L815.9,1054.0 L817.4,1054.0 L819.0,1054.0 L820.5,1054.0 L822.0,1054.0 L823.5,1054.0 L824.9,1054.0 L826.4,1054.0 L827.9,1054.0 L829.4,1054.0 L830.9,1054.0 L832.5,1054.0 L834.0,1054.0 L835.5,1054.0 L837.0,1054.0 L838.4,1054.0 L839.9,1054.0 L841.4,1054.0 L842.9,1054.0 L844.5,1054.0 L846.0,1054.0 L847.5,1054.0 L849.0,1054.0 L850.4,1054.0 L851.9,1054.0 L853.4,1054.0 L854.9,1054.0 L856.5,1054.0 L858.0,1054.0 L859.5,1054.0 L861.0,1054.0 L862.4,1054.0 L863.9,1054.0 L865.4,1054.0 L866.9,1054.0 L868.4,1054.0 L870.0,1054.0 L871.5,1054.0 L873.0,1054.0 L874.5,1054.0 L875.9,1054.0 L877.4,1054.0 L878.9,1054.0 L880.4,1054.0 L882.0,1054.0 L883.5,1054.0 L885.0,1054.0 L886.5,1054.0 L887.9,1054.0 L889.4,1054.0 L890.9,1054.0 L892.4,1054.0 L894.0,1054.0 L895.5,1054.0 L897.0,1054.0 L898.5,1054.0 L899.9,1054.0 L901.4,1054.0 L902.9,1054.0 L904.4,1054.0 L905.9,1054.0 L907.5,1054.0 L909.0,1054.0 L910.5,1054.0 L912.0,1054.0 L913.4,1054.0 L914.9,1054.0 L916.4,1054.0 L917.9,1054.0 L919.5,1054.0 L921.0,1054.0 L922.5,1054.0 L924.0,1054.0 L925.4,1054.0 L926.9,1054.0 L928.4,1054.0 L929.9,1054.0 L931.5,1054.0 L933.0,1054.0 L934.5,1054.0 L936.0,1054.0 L937.5,1054.0 L938.9,1054.0 L940.4,1054.0 L941.9,1054.0 L943.4,1054.0 L945.0,1054.0 L946.5,1054.0 L948.0,1054.0 L949.5,1054.0 L950.9,1054.0 L952.4,1054.0 L953.9,1054.0 L955.4,1054.0 L957.0,1054.0 L958.5,1054.0 L960.0,1054.0 L961.5,1054.0 L962.9,1054.0 L964.4,1054.0 L965.9,1054.0 L967.4,1054.0 L969.0,1054.0 L970.5,1054.0 L972.0,1054.0 L973.5,1054.0 L975.0,1054.0 L976.4,1054.0 L977.9,1054.0 L979.4,1054.0 L980.9,1054.0 L982.5,1054.0 L984.0,1054.0 L985.5,1054.0 L987.0,1054.0 L988.4,1054.0 L989.9,1054.0 L991.4,1054.0 L992.9,1054.0 L994.5,1054.0 L996.0,1054.0 L997.5,1054.0 L999.0,1054.0 L1000.4,1054.0 L1001.9,1054.0 L1003.4,1054.0 L1004.9,1054.0 L1006.5,1054.0 L1008.0,1054.0 L1009.5,1054.0 L1011.0,1054.0 L1012.5,1054.0 L1013.9,1054.0 L1015.4,1054.0 L1016.9,1054.0 L1018.4,1054.0 L1020.0,1054.0 L1021.5,1054.0 L1023.0,1054.0 L1024.5,1054.0 L1025.9,1054.0 L1027.4,1054.0 L1028.9,1054.0 L1030.4,1054.0 L1032.0,1054.0 L1033.5,1054.0 L1035.0,1054.0 L1036.5,1054.0 L1037.9,1054.0 L1039.4,1054.0 L1040.9,1054.0 L1042.4,1054.0 L1043.9,1054.0 L1045.5,1054.0 L1047.0,1054.0 L1048.5,1054.0 L1050.0,1054.0 L1051.4,1054.0 L1052.9,1054.0 L1054.4,1054.0 L1055.9,1054.0 L1057.5,1054.0 L1059.0,1054.0 L1060.5,1054.0 L1062.0,1054.0 L1063.4,1054.0 L1064.9,1054.0 L1066.4,1054.0 L1067.9,1054.0 L1069.5,1054.0 L1071.0,1054.0 L1072.5,1054.0 L1074.0,1054.0 L1075.4,1054.0 L1076.9,1054.0 L1078.4,1054.0 L1079.9,1054.0 L1081.4,1054.0 L1083.0,1054.0 L1084.5,1054.0 L1086.0,1054.0 L1087.5,1054.0 L1088.9,1054.0 L1090.4,1054.0 L1091.9,1054.0 L1093.4,1054.0 L1095.0,1054.0 L1096.5,1054.0 L1098.0,1054.0 L1099.5,1054.0 L1100.9,1054.0 L1102.4,1054.0 L1103.9,1054.0 L1105.4,1054.0 L1107.0,1054.0 L1108.5,1054.0 L1110.0,1054.0 L1111.5,1054.0 L1112.9,1054.0 L1114.4,1054.0 L1115.9,1054.0 L1117.4,1054.0 L1118.9,1054.0 L1120.5,1054.0 L1122.0,1054.0 L1123.5,1054.0 L1125.0,1054.0 L1126.4,1054.0 L1127.9,1054.0 L1129.4,1054.0 L1130.9,1054.0 L1132.5,1054.0 L1134.0,1054.0 L1135.5,1054.0 L1137.0,1054.0 L1138.4,1054.0 L1139.9,1054.0 L1141.4,1054.0 L1142.9,1054.0 L1144.5,1054.0 L1146.0,1054.0 L1147.5,1054.0 L1149.0,1054.0 L1150.5,1054.0 L1151.9,1054.0 L1153.4,1054.0 L1154.9,1054.0 L1156.4,1054.0 L1158.0,1054.0 L1159.5,1054.0 L1161.0,1054.0 L1162.5,1054.0 L1163.9,1054.0 L1165.4,1054.0 L1166.9,1054.0 L1168.4,1054.0 L1170.0,1054.0 L1171.5,1054.0 L1173.0,1054.0 L1174.5,1054.0 L1175.9,1054.0 L1177.4,1054.0 L1178.9,1054.0 L1180.4,1054.0 L1182.0,1054.0 L1183.5,1054.0 L1185.0,1054.0 L1186.5,1054.0 L1188.0,1054.0 L1189.4,1054.0 L1190.9,1054.0 L1192.4,1054.0 L1193.9,1054.0 L1195.5,1054.0 L1197.0,1054.0 L1198.5,1054.0 L1200.0,1054.0 L1201.4,1054.0 L1202.9,1054.0 L1204.4,1054.0 L1205.9,1054.0 L1207.5,1054.0 L1209.0,1054.0 L1210.5,1054.0 L1212.0,1054.0 L1213.4,1054.0 L1214.9,1054.0 L1216.4,1054.0 L1217.9,1054.0 L1219.5,1054.0 L1221.0,1054.0 L1222.5,1054.0 L1224.0,1054.0 L1225.5,1054.0 L1226.9,1054.0 L1228.4,1054.0 L1229.9,1054.0 L1231.4,1054.0 L1233.0,1054.0 L1234.5,1054.0 L1236.0,1054.0 L1237.5,1054.0 L1238.9,1054.0 L1240.4,1054.0 L1241.9,1054.0 L1243.4,1054.0 L1245.0,1054.0 L1246.5,1054.0 L1248.0,1054.0 L1249.5,1054.0 L1250.9,1054.0 L1252.4,1054.0 L1253.9,1054.0 L1255.4,1054.0 L1256.9,1054.0 L1258.5,1054.0 L1260.0,1054.0 L1261.5,1054.0 L1263.0,1054.0 L1264.4,1054.0 L1265.9,1054.0 L1267.4,1054.0 L1268.9,1054.0 L1270.5,1054.0 L1272.0,1054.0 L1273.5,1054.0 L1275.0,1054.0 L1276.4,1054.0 L1277.9,1054.0 L1279.4,1054.0 L1280.9,1054.0 L1282.5,1054.0 L1284.0,1054.0 L1285.5,1054.0 L1287.0,1054.0 L1288.4,1054.0 L1289.9,1054.0 L1291.4,1054.0 L1292.9,1054.0 L1294.4,1054.0 L1296.0,1054.0 L1297.5,1054.0 L1299.0,1054.0 L1300.5,1054.0 L1301.9,1054.0 L1303.4,1054.0 L1304.9,1054.0 L1306.4,1054.0 L1308.0,1054.0 L1309.5,1054.0 L1311.0,1054.0 L1312.5,1054.0 L1313.9,1054.0 L1315.4,1054.0 L1316.9,1054.0 L1318.4,1054.0 L1320.0,1054.0 L1321.5,1054.0 L1323.0,1054.0 L1324.5,1054.0 L1325.9,1054.0 L1327.4,1054.0 L1328.9,1054.0 L1330.4,1054.0 L1331.9,1054.0 L1333.5,1054.0 L1335.0,1054.0 L1336.5,1054.0 L1338.0,1054.0 L1339.4,1054.0 L1340.9,1054.0 L1342.4,1054.0 L1343.9,1054.0 L1345.5,1054.0 L1347.0,1054.0 L1348.5,1054.0 L1350.0,1054.0 L1351.4,1054.0 L1352.9,1054.0 L1354.4,1054.0 L1355.9,1054.0 L1357.5,1054.0 L1359.0,1054.0 L1360.5,1054.0 L1362.0,1054.0 L1363.5,1054.0 L1364.9,1054.0 L1366.4,1054.0 L1367.9,1054.0 L1369.4,1054.0 L1371.0,1054.0 L1372.5,1054.0 L1374.0,1054.0 L1375.5,1054.0 L1376.9,1054.0 L1378.4,1054.0 L1379.9,1054.0 L1381.4,1054.0 L1383.0,1054.0 L1384.5,1054.0 L1386.0,1054.0 L1387.5,1054.0 L1388.9,1054.0 L1390.4,1054.0 L1391.9,1054.0 L1393.4,1054.0 L1395.0,1054.0 L1396.5,1054.0 L1398.0,1054.0 L1399.5,1054.0 L1401.0,1054.0 L1402.4,1054.0 L1403.9,1054.0 L1405.4,1054.0 L1406.9,1054.0 L1408.5,1054.0 L1410.0,1054.0 L1411.5,1054.0 L1413.0,1054.0 L1414.4,1054.0 L1415.9,1054.0 L1417.4,1054.0 L1418.9,1054.0 L1420.5,1054.0 L1422.0,1054.0 L1423.5,1054.0 L1425.0,1054.0 L1426.4,1054.0 L1427.9,1054.0 L1429.4,1054.0 L1430.9,1054.0 L1432.5,1054.0 L1434.0,1054.0 L1435.5,1054.0 L1437.0,1054.0 L1438.5,1054.0 L1439.9,1054.0 L1441.4,1054.0 L1442.9,1054.0 L1444.4,1054.0 L1446.0,1054.0 L1447.5,1054.0 L1449.0,1054.0 L1450.5,1054.0 L1451.9,1054.0 L1453.4,1054.0 L1454.9,1054.0 L1456.4,1054.0 L1458.0,1054.0 L1459.5,1054.0 L1461.0,1054.0 L1462.5,1054.0 L1463.9,1054.0 L1465.4,1054.0 L1466.9,1054.0 L1468.4,1054.0 L1469.9,1054.0 L1471.5,1054.0 L1473.0,1054.0 L1474.5,1054.0 L1476.0,1054.0 L1477.4,1054.0 L1478.9,1054.0 L1480.4,1054.0 L1481.9,1054.0 L1483.5,1054.0 L1485.0,1054.0 L1486.5,1054.0 L1488.0,1054.0 L1489.4,1054.0 L1490.9,1054.0 L1492.4,1054.0 L1493.9,1054.0 L1495.5,1054.0 L1497.0,1054.0 L1498.5,1054.0 L1500.0,1054.0 L1501.4,1054.0 L1502.9,1054.0 L1504.4,1054.0 L1505.9,1054.0 L1507.4,1054.0 L1509.0,1054.0 L1510.5,1054.0 L1512.0,1054.0 L1513.5,1054.0 L1514.9,1054.0 L1516.4,1054.0 L1517.9,1054.0 L1519.4,1054.0 L1521.0,1054.0 L1522.5,1054.0 L1524.0,1054.0 L1525.5,1054.0 L1526.9,1054.0 L1528.4,1054.0 L1529.9,1054.0 L1531.4,1054.0 L1533.0,1054.0 L1534.5,1054.0 L1536.0,1054.0 L1537.5,1054.0 L1538.9,1054.0 L1540.4,1054.0 L1541.9,1054.0 L1543.4,1054.0 L1544.9,1054.0 L1546.5,1054.0 L1548.0,1054.0 L1549.5,1054.0 L1551.0,1054.0 L1552.4,1054.0 L1553.9,1054.0 L1555.4,1054.0 L1556.9,1054.0 L1558.5,1054.0 L1560.0,1054.0 L1561.5,1054.0 L1563.0,1054.0 L1564.4,1054.0 L1565.9,1054.0 L1567.4,1054.0 L1568.9,1054.0 L1570.5,1054.0 L1572.0,1054.0 L1573.5,1054.0 L1575.0,1054.0 L1576.5,1054.0 L1577.9,1054.0 L1579.4,1054.0 L1580.9,1054.0 L1582.4,1054.0 L1584.0,1054.0 L1585.5,1054.0 L1587.0,1054.0 L1588.5,1054.0 L1589.9,1054.0 L1591.4,1054.0 L1592.9,1054.0 L1594.4,1054.0 L1596.0,1054.0 L1597.5,1054.0 L1599.0,1054.0 L1600.5,1054.0 L1601.9,1054.0 L1603.4,1054.0 L1604.9,1054.0 L1606.4,1054.0 L1608.0,1054.0 L1609.5,1054.0 L1611.0,1054.0 L1612.5,1054.0 L1614.0,1054.0 L1615.4,1054.0 L1616.9,1054.0 L1618.4,1054.0 L1619.9,1054.0 L1621.5,1054.0 L1623.0,1054.0 L1624.5,1054.0 L1626.0,1054.0 L1627.4,1054.0 L1628.9,1054.0 L1630.4,1054.0 L1631.9,1054.0 L1633.5,1054.0 L1635.0,1054.0 L1636.5,1054.0 L1638.0,1054.0 L1639.4,1054.0 L1640.9,1054.0 L1642.4,1054.0 L1643.9,1054.0 L1645.5,1054.0 L1647.0,1054.0 L1648.5,1054.0 L1650.0,1054.0 L1651.5,1054.0 L1652.9,1054.0 L1654.4,1054.0 L1655.9,1054.0 L1657.4,1054.0 L1659.0,1054.0 L1660.5,1054.0 L1662.0,1054.0 L1663.5,1054.0 L1664.9,1054.0 L1666.4,1054.0 L1667.9,1054.0 L1669.4,1054.0 L1671.0,1054.0 L1672.5,1054.0 L1674.0,1054.0 L1675.5,1054.0 L1676.9,1054.0 L1678.4,1054.0 L1679.9,1054.0 L1681.4,1054.0 L1682.9,1054.0 L1684.5,1054.0 L1686.0,1054.0 L1687.5,1054.0 L1689.0,1054.0 L1690.4,1054.0 L1691.9,1054.0 L1693.4,1054.0 L1694.9,1054.0 L1696.5,1054.0 L1698.0,1054.0 L1699.5,1054.0 L1701.0,1054.0 L1702.4,1054.0 L1703.9,1054.0 L1705.4,1054.0 L1706.9,1054.0 L1708.5,1054.0 L1710.0,1054.0 L1711.5,1054.0 L1713.0,1054.0 L1714.4,1054.0 L1715.9,1054.0 L1717.4,1054.0 L1718.9,1054.0 L1720.4,1054.0 L1722.0,1054.0 L1723.5,1054.0 L1725.0,1054.0 L1726.5,1054.0 L1727.9,1054.0 L1729.4,1054.0 L1730.9,1054.0 L1732.4,1054.0 L1734.0,1054.0 L1735.5,1054.0 L1737.0,1054.0 L1738.5,1054.0 L1739.9,1054.0 L1741.4,1054.0 L1742.9,1054.0 L1744.4,1054.0 L1746.0,1054.0 L1747.5,1054.0 L1749.0,1054.0 L1750.5,1054.0 L1751.9,1054.0 L1753.4,1054.0 L1754.9,1054.0 L1756.4,1054.0 L1757.9,1054.0 L1759.5,1054.0 L1761.0,1054.0 L1762.5,1054.0 L1764.0,1054.0 L1765.4,1054.0 L1766.9,1054.0 L1768.4,1054.0 L1769.9,1054.0 L1771.5,1054.0 L1773.0,1054.0 L1774.5,1054.0 L1776.0,1054.0 L1777.0,1054.0" stroke="#ff0000"/>
<path d="M286.0,302.5 L287.5,302.9 L288.9,303.4 L290.3,303.8 L291.7,304.3 L293.2,304.7 L294.6,305.2 L296.1,305.7 L297.5,306.1 L298.9,306.6 L300.3,307.1 L301.7,307.6 L303.1,308.1 L304.6,308.6 L306.0,309.1 L307.4,309.6 L308.8,310.1 L310.2,310.6 L311.6,311.2 L313.0,311.7 L314.4,312.2 L315.8,312.8 L317.2,313.3 L318.6,313.9 L320.0,314.4 L321.4,315.0 L322.8,315.6 L324.2,316.2 L325.5,316.7 L326.9,317.4 L328.3,317.9 L329.7,318.6 L331.0,319.2 L332.4,319.8 L333.8,320.4 L335.1,321.0 L336.5,321.7 L337.8,322.3 L339.2,322.9 L340.6,323.6 L341.9,324.3 L343.3,324.9 L344.6,325.6 L345.9,326.3 L347.2,326.9 L348.6,327.6 L349.9,328.3 L351.2,329.0 L352.6,329.8 L353.8,330.5 L355.2,331.2 L356.5,331.9 L357.8,332.6 L359.1,333.4 L360.4,334.1 L361.7,334.9 L363.0,335.6 L364.3,336.4 L365.6,337.2 L366.9,338.0 L368.2,338.7 L369.4,339.5 L370.7,340.3 L372.0,341.1 L373.2,341.9 L374.5,342.7 L375.8,343.5 L377.0,344.4 L378.3,345.2 L379.5,346.0 L380.8,346.9 L382.0,347.7 L383.2,348.6 L384.5,349.4 L385.7,350.3 L386.9,351.2 L388.1,352.0 L389.3,352.9 L390.5,353.8 L391.8,354.7 L393.0,355.6 L394.2,356.5 L395.4,357.4 L396.6,358.3 L397.8,359.2 L398.9,360.2 L400.1,361.1 L401.3,362.0 L402.5,363.0 L403.6,363.9 L404.8,364.9 L405.9,365.8 L407.1,366.8 L408.2,367.7 L409.4,368.7 L410.5,369.7 L411.6,370.6 L412.7,371.6 L413.9,372.7 L415.1,373.6 L416.2,374.6 L417.3,375.6 L418.4,376.7 L419.5,377.6 L420.6,378.6 L421.7,379.7 L422.8,380.7 L423.8,381.7 L425.0,382.8 L426.0,383.8 L427.1,384.9 L428.2,385.9 L429.3,387.0 L430.3,388.0 L431.4,389.1 L432.4,390.1 L433.5,391.2 L434.5,392.2 L435.6,393.3 L436.6,394.4 L437.6,395.5 L438.7,396.6 L439.7,397.7 L440.8,398.8 L441.8,399.9 L442.8,401.0 L443.8,402.1 L444.8,403.2 L445.8,404.3 L446.8,405.4 L447.9,406.6 L448.8,407.7 L449.8,408.8 L450.8,410.0 L451.8,411.1 L452.8,412.2 L453.7,413.3 L454.7,414.5 L455.7,415.6 L456.7,416.8 L457.6,417.9 L458.6,419.1 L459.6,420.3 L460.5,421.3 L461.4,422.5 L462.4,423.7 L463.3,424.8 L464.3,426.1 L465.2,427.3 L466.1,428.4 L467.0,429.5 L468.0,430.8 L468.9,431.9 L469.8,433.1 L470.7,434.4 L471.6,435.5 L472.5,436.7 L473.4,437.9 L474.3,439.1 L475.2,440.3 L476.1,441.5 L477.0,442.7 L477.9,443.9 L478.8,445.1 L479.7,446.4 L480.6,447.6 L481.5,448.8 L482.3,450.0 L483.2,451.2 L484.1,452.5 L484.9,453.7 L485.8,454.9 L486.6,456.1 L487.5,457.4 L488.3,458.6 L489.2,459.9 L490.1,461.1 L490.9,462.3 L491.7,463.5 L492.6,464.8 L493.4,466.1 L494.2,467.3 L495.0,468.5 L495.9,469.7 L496.7,471.0 L497.6,472.4 L498.4,473.6 L499.2,474.9 L500.0,476.0 L500.8,477.3 L501.6,478.6 L502.4,479.9 L503.2,481.1 L504.1,482.4 L504.8,483.6 L505.6,484.9 L506.5,486.2 L507.2,487.4 L508.0,488.7 L508.8,490.1 L509.6,491.3 L510.4,492.6 L511.2,493.8 L512.0,495.2 L512.7,496.4 L513.5,497.7 L514.3,499.0 L515.0,500.3 L515.8,501.6 L516.6,502.9 L517.3,504.1 L518.1,505.4 L518.9,506.8 L519.7,508.1 L520.4,509.3 L521.1,510.6 L521.9,511.9 L522.6,513.2 L523.4,514.5 L524.1,515.8 L524.9,517.1 L525.6,518.4 L526.4,519.7 L527.1,521.0 L527.9,522.3 L528.6,523.7 L529.3,525.0 L530.1,526.3 L530.8,527.5 L531.5,528.9 L532.3,530.2 L533.0,531.6 L533.7,532.8 L534.4,534.1 L535.2,535.5 L535.8,536.7 L536.6,538.1 L537.3,539.5 L538.0,540.7 L538.7,542.1 L539.4,543.3 L540.2,544.7 L540.8,546.0 L541.6,547.4 L542.2,548.6 L543.0,550.0 L543.7,551.3 L544.3,552.6 L545.1,554.0 L545.7,555.3 L546.4,556.6 L547.2,558.0 L547.8,559.3 L548.5,560.6 L549.2,562.0 L549.9,563.3 L550.6,564.6 L551.3,565.9 L552.0,567.3 L552.7,568.7 L553.3,570.0 L554.0,571.3 L554.7,572.6 L555.4,573.9 L556.0,575.2 L556.7,576.6 L557.5,578.0 L558.1,579.4 L558.8,580.7 L559.5,582.1 L560.1,583.4 L560.8,584.7 L561.5,586.1 L562.1,587.4 L562.7,588.6 L563.4,590.0 L564.1,591.4 L564.8,592.7 L565.4,594.1 L566.1,595.4 L566.8,596.8 L567.4,598.2 L568.1,599.6 L568.7,600.8 L569.4,602.2 L570.0,603.5 L570.7,604.9 L571.3,606.2 L572.0,607.5 L572.7,608.9 L573.3,610.3 L573.9,611.6 L574.6,613.0 L575.3,614.4 L575.9,615.8 L576.5,617.0 L577.2,618.4 L577.9,619.8 L578.5,621.1 L579.1,622.5 L579.7,623.7 L580.4,625.2 L581.1,626.6 L581.7,627.8 L582.4,629.3 L582.9,630.5 L583.6,632.0 L584.2,633.2 L584.9,634.7 L585.6,636.1 L586.2,637.4 L586.8,638.8 L587.4,640.1 L588.1,641.5 L588.7,642.8 L589.4,644.2 L590.0,645.5 L590.6,647.0 L591.2,648.3 L591.8,649.6 L592.5,651.0 L593.1,652.3 L593.8,653.8 L594.4,655.0 L595.0,656.5 L595.6,657.8 L596.2,659.1 L596.9,660.6 L597.5,661.9 L598.2,663.3 L598.8,664.6 L599.3,665.9 L600.0,667.4 L600.6,668.7 L601.2,670.0 L601.9,671.5 L602.5,672.8 L603.1,674.1 L603.7,675.6 L604.3,676.9 L604.9,678.2 L605.6,679.7 L606.2,681.0 L606.8,682.3 L607.5,683.8 L608.1,685.1 L608.7,686.4 L609.3,687.9 L609.9,689.2 L610.5,690.5 L611.1,691.9 L611.8,693.4 L612.4,694.7 L613.0,696.0 L613.6,697.3 L614.3,698.8 L614.9,700.1 L615.5,701.5 L616.1,703.0 L616.7,704.3 L617.3,705.6 L617.9,706.9 L618.6,708.4 L619.2,709.8 L619.8,711.1 L620.4,712.4 L621.0,713.7 L621.6,715.2 L622.2,716.6 L622.8,717.9 L623.4,719.2 L624.1,720.7 L624.7,722.1 L625.3,723.4 L625.9,724.7 L626.6,726.2 L627.2,727.5 L627.8,728.9 L628.4,730.2 L628.9,731.5 L629.6,733.0 L630.2,734.4 L630.8,735.7 L631.4,737.0 L632.1,738.5 L632.7,739.9 L633.3,741.2 L633.9,742.5 L634.5,743.9 L635.1,745.4 L635.7,746.7 L636.3,748.0 L636.9,749.3 L637.6,750.8 L638.2,752.2 L638.8,753.5 L639.4,754.8 L640.1,756.3 L640.7,757.6 L641.2,759.0 L641.8,760.3 L642.5,761.8 L643.1,763.1 L643.7,764.4 L644.3,765.8 L645.0,767.3 L645.6,768.6 L646.2,769.9 L646.8,771.2 L647.4,772.7 L648.0,774.0 L648.6,775.4 L649.3,776.8 L649.9,778.2 L650.5,779.5 L651.1,780.8 L651.8,782.3 L652.4,783.6 L653.0,784.9 L653.6,786.4 L654.2,787.7 L654.8,789.0 L655.5,790.5 L656.1,791.8 L656.7,793.1 L657.4,794.6 L657.9,795.9 L658.5,797.2 L659.2,798.6 L659.8,799.9 L660.5,801.4 L661.1,802.7 L661.7,804.0 L662.3,805.5 L662.9,806.8 L663.6,808.2 L664.2,809.5 L664.8,810.8 L665.5,812.3 L666.1,813.6 L666.7,815.0 L667.3,816.3 L668.0,817.7 L668.6,819.0 L669.3,820.5 L669.9,821.8 L670.5,823.2 L671.1,824.5 L671.8,825.9 L672.4,827.2 L673.1,828.6 L673.7,829.9 L674.4,831.3 L674.9,832.6 L675.6,834.0 L676.2,835.3 L676.9,836.7 L677.6,838.1 L678.2,839.4 L678.8,840.8 L679.4,842.1 L680.1,843.5 L680.8,844.9 L681.4,846.1 L682.0,847.5 L682.7,848.9 L683.3,850.2 L684.0,851.6 L684.6,853.0 L685.3,854.4 L685.9,855.6 L686.6,857.0 L687.2,858.4 L687.9,859.8 L688.5,861.0 L689.2,862.4 L689.9,863.8 L690.5,865.1 L691.2,866.5 L691.8,867.7 L692.5,869.1 L693.1,870.5 L693.8,871.8 L694.5,873.2 L695.2,874.5 L695.8,875.9 L696.5,877.3 L697.2,878.6 L697.8,879.9 L698.5,881.3 L699.2,882.6 L699.8,884.0 L700.5,885.3 L701.2,886.6 L701.9,888.0 L702.5,889.3 L703.2,890.6 L703.9,891.9 L704.5,893.3 L705.2,894.6 L706.0,896.0 L706.6,897.3 L707.3,898.6 L708.0,899.9 L708.6,901.2 L709.4,902.7 L710.1,904.0 L710.7,905.3 L711.4,906.6 L712.1,908.0 L712.8,909.3 L713.6,910.7 L714.2,911.9 L714.9,913.2 L715.7,914.6 L716.3,915.9 L717.1,917.3 L717.7,918.5 L718.5,919.9 L719.2,921.2 L719.9,922.6 L720.6,923.8 L721.3,925.2 L722.0,926.4 L722.7,927.8 L723.5,929.2 L724.2,930.4 L724.9,931.7 L725.6,933.1 L726.3,934.3 L727.1,935.7 L727.8,937.0 L728.6,938.3 L729.3,939.7 L730.0,940.9 L730.7,942.2 L731.5,943.5 L732.2,944.8 L732.9,946.1 L733.7,947.4 L734.4,948.7 L735.2,950.0 L735.9,951.3 L736.7,952.6 L737.4,953.9 L738.2,955.2 L739.0,956.6 L739.7,957.9 L740.5,959.1 L741.2,960.4 L742.0,961.6 L742.8,963.0 L743.5,964.3 L744.3,965.5 L745.1,966.9 L745.8,968.1 L746.7,969.5 L747.4,970.7 L748.2,972.0 L749.0,973.2 L749.8,974.6 L750.5,975.8 L751.4,977.1 L752.1,978.3 L752.9,979.6 L753.8,980.9 L754.6,982.2 L755.3,983.4 L756.1,984.7 L757.0,986.0 L757.8,987.2 L758.6,988.5 L759.4,989.8 L760.2,991.0 L761.1,992.3 L761.9,993.5 L762.7,994.8 L763.5,996.0 L764.3,997.3 L765.2,998.5 L766.0,999.7 L766.9,1001.0 L767.7,1002.2 L768.5,1003.4 L769.4,1004.8 L770.2,1006.0 L771.0,1007.1 L771.9,1008.4 L772.8,1009.6 L773.7,1010.9 L774.5,1012.0 L775.4,1013.3 L776.3,1014.6 L777.1,1015.7 L778.0,1017.0 L778.9,1018.2 L779.8,1019.4 L780.7,1020.7 L781.6,1021.9 L782.4,1023.0 L783.3,1024.2 L784.2,1025.5 L785.1,1026.7 L786.0,1027.9 L786.9,1029.1 L787.8,1030.2 L788.7,1031.4 L789.7,1032.6 L790.6,1033.8 L791.5,1035.0 L792.4,1036.2 L793.3,1037.3 L794.3,1038.5 L795.2,1039.7 L796.2,1040.9 L797.1,1042.0 L798.0,1043.2 L799.0,1044.3 L800.0,1045.5 L800.9,1046.6 L801.8,1047.8 L802.8,1048.9 L803.8,1050.1 L804.7,1051.2 L805.7,1052.3 L806.8,1053.6 L807.7,1054.7 L808.7,1055.8 L809.7,1056.9 L810.6,1058.0 L811.7,1059.2 L812.6,1060.2 L813.7,1061.4 L814.7,1062.5 L815.7,1063.6 L816.7,1064.7 L817.7,1065.8 L818.8,1066.9 L819.8,1068.0 L820.8,1069.0 L821.8,1070.1 L822.9,1071.2 L823.9,1072.3 L824.9,1073.4 L826.0,1074.4 L827.1,1075.6 L828.2,1076.6 L829.2,1077.7 L830.2,1078.7 L831.4,1079.8 L832.4,1080.8 L833.5,1081.9 L834.6,1082.9 L835.7,1083.9 L836.7,1084.9 L837.8,1086.0 L839.0,1087.0 L840.1,1088.0 L841.2,1089.0 L842.2,1090.0 L843.4,1091.0 L844.5,1092.0 L845.7,1093.0 L846.8,1094.0 L847.9,1095.0 L849.0,1096.0 L850.1,1096.9 L851.3,1097.9 L852.5,1098.9 L853.7,1099.8 L854.8,1100.8 L856.0,1101.7 L857.1,1102.6 L858.3,1103.6 L859.5,1104.6 L860.7,1105.5 L861.8,1106.4 L863.0,1107.3 L864.2,1108.2 L865.4,1109.1 L866.5,1110.0 L867.8,1111.0 L869.0,1111.8 L870.2,1112.7 L871.4,1113.6 L872.7,1114.5 L873.9,1115.3 L875.1,1116.2 L876.3,1117.1 L877.6,1117.9 L878.8,1118.7 L880.0,1119.6 L881.3,1120.4 L882.5,1121.2 L883.8,1122.1 L885.0,1122.9 L886.3,1123.7 L887.6,1124.5 L888.8,1125.3 L890.1,1126.1 L891.4,1126.9 L892.6,1127.7 L894.0,1128.5 L895.3,1129.2 L896.5,1130.0 L897.8,1130.7 L899.1,1131.5 L900.4,1132.2 L901.7,1133.0 L903.0,1133.7 L904.3,1134.4 L905.7,1135.2 L907.0,1135.9 L908.3,1136.6 L909.6,1137.3 L911.0,1138.0 L912.3,1138.7 L913.6,1139.4 L914.9,1140.0 L916.3,1140.7 L917.6,1141.4 L919.0,1142.0 L920.3,1142.7 L921.7,1143.4 L923.1,1144.0 L924.4,1144.6 L925.7,1145.3 L927.2,1145.9 L928.5,1146.5 L929.8,1147.1 L931.3,1147.7 L932.6,1148.3 L933.9,1148.9 L935.4,1149.5 L936.8,1150.1 L938.1,1150.7 L939.5,1151.2 L940.9,1151.8 L942.3,1152.4 L943.7,1152.9 L945.1,1153.4 L946.5,1154.0 L947.9,1154.5 L949.3,1155.1 L950.7,1155.6 L952.1,1156.1 L953.5,1156.6 L954.9,1157.1 L956.3,1157.6 L957.7,1158.1 L959.1,1158.6 L960.6,1159.1 L962.0,1159.6 L963.4,1160.1 L964.9,1160.6 L966.3,1161.0 L967.7,1161.5 L969.1,1161.9 L970.6,1162.4 L972.0,1162.8 L973.5,1163.3 L974.9,1163.7 L976.3,1164.1 L977.8,1164.5 L979.2,1165.0 L980.6,1165.4 L982.1,1165.8 L983.5,1166.2 L984.9,1166.6 L986.4,1167.0 L987.8,1167.4 L989.3,1167.8 L990.8,1168.1 L992.2,1168.5 L993.7,1168.9 L995.2,1169.2 L996.6,1169.6 L998.1,1170.0 L999.5,1170.3 L1001.0,1170.7 L1002.4,1171.0 L1003.9,1171.3 L1005.4,1171.7 L1006.8,1172.0 L1008.3,1172.3 L1009.7,1172.7 L1011.2,1173.0 L1012.7,1173.3 L1014.1,1173.6 L1015.6,1173.9 L1017.1,1174.2 L1018.6,1174.5 L1020.0,1174.8 L1021.5,1175.1 L1023.0,1175.4 L1024.5,1175.7 L1025.9,1176.0 L1027.4,1176.2 L1028.9,1176.5 L1030.3,1176.8 L1031.8,1177.0 L1033.3,1177.3 L1034.7,1177.6 L1036.2,1177.8 L1037.7,1178.1 L1039.2,1178.3 L1040.6,1178.6 L1042.1,1178.8 L1043.6,1179.0 L1045.1,1179.3 L1046.6,1179.5 L1048.1,1179.8 L1049.6,1180.0 L1051.1,1180.2 L1052.5,1180.4 L1054.0,1180.6 L1055.5,1180.9 L1057.0,1181.1 L1058.5,1181.3 L1059.9,1181.5 L1061.4,1181.7 L1062.9,1181.9 L1064.4,1182.1 L1065.9,1182.3 L1067.4,1182.5 L1068.9,1182.7 L1070.4,1182.9 L1071.9,1183.0 L1073.4,1183.2 L1074.9,1183.4 L1076.3,1183.6 L1077.8,1183.8 L1079.3,1183.9 L1080.7,1184.1 L1082.2,1184.3 L1083.7,1184.4 L1085.2,1184.6 L1086.7,1184.8 L1088.2,1184.9 L1089.7,1185.1 L1091.3,1185.2 L1092.7,1185.4 L1094.2,1185.5 L1095.7,1185.7 L1097.2,1185.8 L1098.7,1186.0 L1100.2,1186.1 L1101.7,1186.3 L1103.2,1186.4 L1104.7,1186.5 L1106.2,1186.7 L1107.7,1186.8 L1109.1,1186.9 L1110.6,1187.1 L1112.1,1187.2 L1113.6,1187.3 L1115.1,1187.4 L1116.6,1187.6 L1118.1,1187.7 L1119.6,1187.8 L1121.1,1187.9 L1122.6,1188.0 L1124.1,1188.2 L1125.5,1188.3 L1127.1,1188.4 L1128.6,1188.5 L1130.1,1188.6 L1131.6,1188.7 L1133.1,1188.8 L1134.6,1188.9 L1136.1,1189.0 L1137.6,1189.1 L1139.0,1189.2 L1140.5,1189.3 L1142.0,1189.4 L1143.5,1189.5 L1145.0,1189.6 L1146.5,1189.7 L1148.1,1189.8 L1149.6,1189.9 L1151.0,1190.0 L1152.5,1190.1 L1154.0,1190.1 L1155.5,1190.2 L1157.0,1190.3 L1158.5,1190.4 L1160.0,1190.5 L1161.5,1190.6 L1163.0,1190.6 L1164.5,1190.7 L1166.0,1190.8 L1167.5,1190.9 L1169.0,1190.9 L1170.5,1191.0 L1172.0,1191.1 L1173.5,1191.2 L1175.0,1191.2 L1176.5,1191.3 L1178.0,1191.4 L1179.5,1191.4 L1181.0,1191.5 L1182.5,1191.6 L1184.0,1191.6 L1185.5,1191.7 L1187.0,1191.8 L1188.5,1191.8 L1190.0,1191.9 L1191.5,1191.9 L1192.9,1192.0 L1194.5,1192.1 L1196.0,1192.1 L1197.5,1192.2 L1199.0,1192.2 L1200.5,1192.3 L1202.0,1192.3 L1203.5,1192.4 L1204.9,1192.5 L1206.4,1192.5 L1207.9,1192.6 L1209.5,1192.6 L1211.0,1192.7 L1212.5,1192.7 L1214.0,1192.8 L1215.5,1192.8 L1217.0,1192.9 L1218.4,1192.9 L1219.9,1192.9 L1221.4,1193.0 L1223.0,1193.0 L1224.5,1193.1 L1226.0,1193.1 L1227.5,1193.2 L1229.0,1193.2 L1230.4,1193.3 L1231.9,1193.3 L1233.4,1193.3 L1234.9,1193.4 L1236.5,1193.4 L1238.0,1193.5 L1239.5,1193.5 L1241.0,1193.5 L1242.4,1193.6 L1243.9,1193.6 L1245.4,1193.6 L1246.9,1193.7 L1248.4,1193.7 L1250.0,1193.7 L1251.5,1193.8 L1253.0,1193.8 L1254.5,1193.8 L1255.9,1193.9 L1257.4,1193.9 L1258.9,1193.9 L1260.4,1194.0 L1261.9,1194.0 L1263.5,1194.0 L1265.0,1194.1 L1266.5,1194.1 L1267.9,1194.1 L1269.4,1194.2 L1270.9,1194.2 L1272.4,1194.2 L1273.9,1194.2 L1275.5,1194.3 L1277.0,1194.3 L1278.5,1194.3 L1280.0,1194.3 L1281.4,1194.4 L1282.9,1194.4 L1284.4,1194.4 L1285.9,1194.5 L1287.4,1194.5 L1289.0,1194.5 L1290.5,1194.5 L1292.0,1194.5 L1293.4,1194.6 L1294.9,1194.6 L1296.4,1194.6 L1297.9,1194.6 L1299.4,1194.7 L1301.0,1194.7 L1302.5,1194.7 L1304.0,1194.7 L1305.4,1194.7 L1306.9,1194.8 L1308.4,1194.8 L1309.9,1194.8 L1311.4,1194.8 L1312.9,1194.8 L1314.5,1194.9 L1316.0,1194.9 L1317.5,1194.9 L1318.9,1194.9 L1320.4,1194.9 L1321.9,1194.9 L1323.4,1195.0 L1324.9,1195.0 L1326.5,1195.0 L1328.0,1195.0 L1329.5,1195.0 L1330.9,1195.1 L1332.4,1195.1 L1333.9,1195.1 L1335.4,1195.1 L1336.9,1195.1 L1338.4,1195.1 L1340.0,1195.1 L1341.5,1195.2 L1342.9,1195.2 L1344.4,1195.2 L1345.9,1195.2 L1347.4,1195.2 L1348.9,1195.2 L1350.4,1195.2 L1352.0,1195.3 L1353.5,1195.3 L1355.0,1195.3 L1356.4,1195.3 L1357.9,1195.3 L1359.4,1195.3 L1360.9,1195.3 L1362.4,1195.3 L1364.0,1195.4 L1365.5,1195.4 L1367.0,1195.4 L1368.4,1195.4 L1369.9,1195.4 L1371.4,1195.4 L1372.9,1195.4 L1374.4,1195.4 L1375.9,1195.4 L1377.5,1195.5 L1379.0,1195.5 L1380.4,1195.5 L1381.9,1195.5 L1383.4,1195.5 L1384.9,1195.5 L1386.4,1195.5 L1387.9,1195.5 L1389.5,1195.5 L1391.0,1195.5 L1392.5,1195.5 L1393.9,1195.6 L1395.4,1195.6 L1396.9,1195.6 L1398.4,1195.6 L1399.9,1195.6 L1401.4,1195.6 L1403.0,1195.6 L1404.5,1195.6 L1405.9,1195.6 L1407.4,1195.6 L1408.9,1195.6 L1410.4,1195.6 L1411.9,1195.7 L1413.4,1195.7 L1415.0,1195.7 L1416.5,1195.7 L1417.9,1195.7 L1419.4,1195.7 L1420.9,1195.7 L1422.4,1195.7 L1423.9,1195.7 L1425.4,1195.7 L1427.0,1195.7 L1428.5,1195.7 L1430.0,1195.7 L1431.4,1195.7 L1432.9,1195.7 L1434.4,1195.8 L1435.9,1195.8 L1437.4,1195.8 L1438.9,1195.8 L1440.5,1195.8 L1442.0,1195.8 L1443.4,1195.8 L1444.9,1195.8 L1446.4,1195.8 L1447.9,1195.8 L1449.4,1195.8 L1450.9,1195.8 L1452.5,1195.8 L1454.0,1195.8 L1455.4,1195.8 L1456.9,1195.8 L1458.4,1195.8 L1459.9,1195.8 L1461.4,1195.8 L1462.9,1195.9 L1464.5,1195.9 L1466.0,1195.9 L1467.5,1195.9 L1468.9,1195.9 L1470.4,1195.9 L1471.9,1195.9 L1473.4,1195.9 L1474.9,1195.9 L1476.4,1195.9 L1478.0,1195.9 L1479.5,1195.9 L1480.9,1195.9 L1482.4,1195.9 L1483.9,1195.9 L1485.4,1195.9 L1486.9,1195.9 L1488.4,1195.9 L1490.0,1195.9 L1491.5,1195.9 L1493.0,1195.9 L1494.4,1195.9 L1495.9,1195.9 L1497.4,1195.9 L1498.9,1195.9 L1500.4,1195.9 L1502.0,1195.9 L1503.5,1196.0 L1505.0,1196.0 L1506.4,1196.0 L1507.9,1196.0 L1509.4,1196.0 L1510.9,1196.0 L1512.4,1196.0 L1513.9,1196.0 L1515.5,1196.0 L1517.0,1196.0 L1518.4,1196.0 L1519.9,1196.0 L1521.4,1196.0 L1522.9,1196.0 L1524.4,1196.0 L1525.9,1196.0 L1527.5,1196.0 L1529.0,1196.0 L1530.5,1196.0 L1531.9,1196.0 L1533.4,1196.0 L1534.9,1196.0 L1536.4,1196.0 L1537.9,1196.0 L1539.4,1196.0 L1541.0,1196.0 L1542.5,1196.0 L1543.9,1196.0 L1545.4,1196.0 L1546.9,1196.0 L1548.4,1196.0 L1549.9,1196.0 L1551.4,1196.0 L1553.0,1196.0 L1554.5,1196.0 L1555.9,1196.0 L1557.4,1196.0 L1558.9,1196.0 L1560.4,1196.0 L1561.9,1196.0 L1563.4,1196.0 L1565.0,1196.0 L1566.5,1196.1 L1568.0,1196.1 L1569.4,1196.1 L1570.9,1196.1 L1572.4,1196.1 L1573.9,1196.1 L1575.4,1196.1 L1576.9,1196.1 L1578.5,1196.1 L1580.0,1196.1 L1581.4,1196.1 L1582.9,1196.1 L1584.4,1196.1 L1585.9,1196.1 L1587.4,1196.1 L1588.9,1196.1 L1590.5,1196.1 L1592.0,1196.1 L1593.4,1196.1 L1594.9,1196.1 L1596.4,1196.1 L1597.9,1196.1 L1599.4,1196.1 L1600.9,1196.1 L1602.5,1196.1 L1604.0,1196.1 L1605.5,1196.1 L1606.9,1196.1 L1608.4,1196.1 L1609.9,1196.1 L1611.4,1196.1 L1612.9,1196.1 L1614.4,1196.1 L1616.0,1196.1 L1617.5,1196.1 L1618.9,1196.1 L1620.4,1196.1 L1621.9,1196.1 L1623.4,1196.1 L1624.9,1196.1 L1626.4,1196.1 L1628.0,1196.1 L1629.5,1196.1 L1630.9,1196.1 L1632.4,1196.1 L1633.9,1196.1 L1635.4,1196.1 L1636.9,1196.1 L1638.4,1196.1 L1640.0,1196.1 L1641.5,1196.1 L1643.0,1196.1 L1644.4,1196.1 L1645.9,1196.1 L1647.4,1196.1 L1648.9,1196.1 L1650.4,1196.1 L1651.9,1196.1 L1653.5,1196.1 L1655.0,1196.1 L1656.4,1196.1 L1657.9,1196.1 L1659.4,1196.1 L1660.9,1196.1 L1662.4,1196.1 L1663.9,1196.1 L1665.5,1196.1 L1667.0,1196.1 L1668.4,1196.1 L1669.9,1196.1 L1671.4,1196.1 L1672.9,1196.1 L1674.4,1196.1 L1675.9,1196.1 L1677.5,1196.1 L1679.0,1196.1 L1680.5,1196.1 L1681.9,1196.1 L1683.4,1196.1 L1684.9,1196.1 L1686.4,1196.1 L1687.9,1196.1 L1689.4,1196.1 L1691.0,1196.1 L1692.5,1196.1 L1693.9,1196.1 L1695.4,1196.1 L1696.9,1196.1 L1698.4,1196.1 L1699.9,1196.1 L1701.4,1196.1 L1703.0,1196.1 L1704.5,1196.1 L1706.0,1196.1 L1707.4,1196.1 L1708.9,1196.1 L1710.4,1196.1 L1711.9,1196.1 L1713.4,1196.1 L1715.0,1196.1 L1716.5,1196.1 L1718.0,1196.1 L1719.4,1196.1 L1720.9,1196.1 L1722.4,1196.1 L1723.9,1196.1 L1725.4,1196.1 L1726.9,1196.1 L1728.5,1196.1 L1730.0,1196.1 L1731.4,1196.1 L1732.9,1196.1 L1734.4,1196.1 L1735.9,1196.1 L1737.4,1196.1 L1738.9,1196.1 L1740.5,1196.1 L1742.0,1196.1 L1743.5,1196.1 L1744.9,1196.1 L1746.4,1196.1 L1747.9,1196.1 L1749.4,1196.1 L1750.9,1196.1 L1752.4,1196.1 L1754.0,1196.1 L1755.5,1196.1 L1756.9,1196.1 L1758.4,1196.1 L1759.9,1196.1 L1761.4,1196.1 L1762.9,1196.2 L1764.4,1196.2 L1766.0,1196.2 L1767.5,1196.2 L1768.9,1196.2 L1770.4,1196.2 L1771.9,1196.2 L1773.4,1196.2 L1774.9,1196.2 L1776.4,1196.2 L1777.0,1196.2" stroke="#0000ff"/>
<path d="M286.0,479.4 L287.6,479.4 L289.1,479.4 L290.5,479.4 L292.0,479.4 L293.5,479.4 L295.0,479.4 L296.5,479.4 L298.0,479.4 L299.6,479.4 L301.1,479.4 L302.6,479.4 L304.0,479.4 L305.5,479.4 L307.0,479.4 L308.5,479.4 L310.0,479.4 L311.6,479.4 L313.1,479.4 L314.6,479.5 L316.0,479.5 L317.5,479.5 L319.0,479.5 L320.5,479.5 L322.0,479.5 L323.5,479.5 L325.1,479.5 L326.6,479.5 L328.0,479.5 L329.5,479.5 L331.0,479.5 L332.5,479.5 L334.0,479.5 L335.5,479.5 L337.1,479.5 L338.6,479.5 L340.1,479.5 L341.5,479.5 L343.0,479.5 L344.5,479.5 L346.0,479.5 L347.5,479.5 L349.1,479.5 L350.6,479.5 L352.1,479.6 L353.5,479.6 L355.0,479.6 L356.5,479.6 L358.0,479.6 L359.5,479.6 L361.0,479.6 L362.6,479.6 L364.1,479.6 L365.5,479.6 L367.0,479.6 L368.5,479.7 L370.0,479.7 L371.5,479.7 L373.0,479.7 L374.6,479.7 L376.1,479.7 L377.6,479.7 L379.0,479.7 L380.5,479.8 L382.0,479.8 L383.5,479.8 L385.0,479.8 L386.6,479.8 L388.1,479.8 L389.6,479.9 L391.0,479.9 L392.5,479.9 L394.0,479.9 L395.5,480.0 L397.0,480.0 L398.5,480.0 L400.1,480.0 L401.6,480.1 L403.0,480.1 L404.5,480.1 L406.0,480.2 L407.5,480.2 L409.0,480.2 L410.5,480.3 L412.0,480.3 L413.6,480.3 L415.1,480.4 L416.5,480.4 L418.0,480.5 L419.5,480.5 L421.0,480.6 L422.5,480.6 L424.0,480.7 L425.5,480.7 L427.1,480.8 L428.5,480.9 L430.0,480.9 L431.5,481.0 L433.0,481.1 L434.5,481.1 L436.0,481.2 L437.5,481.3 L439.0,481.4 L440.5,481.5 L442.0,481.6 L443.5,481.7 L445.0,481.8 L446.5,481.9 L448.0,482.0 L449.5,482.1 L451.0,482.2 L452.5,482.3 L454.0,482.5 L455.5,482.6 L457.0,482.7 L458.4,482.9 L459.9,483.0 L461.4,483.2 L462.9,483.4 L464.4,483.5 L465.9,483.7 L467.4,483.9 L468.9,484.1 L470.4,484.3 L471.9,484.5 L473.4,484.8 L474.8,485.0 L476.3,485.2 L477.8,485.5 L479.2,485.8 L480.7,486.1 L482.2,486.3 L483.6,486.6 L485.1,487.0 L486.6,487.3 L488.0,487.6 L489.5,488.0 L490.9,488.3 L492.4,488.7 L493.9,489.1 L495.3,489.5 L496.8,490.0 L498.2,490.4 L499.6,490.9 L501.0,491.3 L502.4,491.8 L503.8,492.3 L505.3,492.9 L506.7,493.4 L508.0,494.0 L509.4,494.6 L510.8,495.2 L512.2,495.8 L513.5,496.5 L514.9,497.1 L516.2,497.8 L517.5,498.5 L518.8,499.2 L520.2,500.0 L521.4,500.7 L522.7,501.5 L524.0,502.3 L525.2,503.1 L526.5,504.0 L527.7,504.8 L528.9,505.7 L530.1,506.6 L531.3,507.5 L532.5,508.4 L533.7,509.4 L534.8,510.4 L535.9,511.3 L537.0,512.3 L538.1,513.4 L539.3,514.4 L540.3,515.5 L541.3,516.5 L542.4,517.6 L543.4,518.7 L544.5,519.8 L545.4,520.9 L546.5,522.1 L547.5,523.2 L548.4,524.4 L549.3,525.5 L550.3,526.7 L551.2,527.8 L552.1,529.0 L553.0,530.2 L553.9,531.4 L554.8,532.7 L555.6,533.9 L556.5,535.2 L557.3,536.4 L558.1,537.6 L558.9,538.9 L559.8,540.2 L560.6,541.5 L561.3,542.7 L562.1,544.0 L562.9,545.4 L563.6,546.6 L564.4,548.0 L565.1,549.3 L565.8,550.5 L566.5,551.9 L567.2,553.1 L568.0,554.5 L568.6,555.8 L569.3,557.1 L570.0,558.5 L570.6,559.8 L571.3,561.2 L572.0,562.6 L572.7,564.0 L573.3,565.3 L573.9,566.7 L574.5,568.0 L575.1,569.3 L575.8,570.8 L576.4,572.2 L577.0,573.5 L577.6,574.9 L578.2,576.3 L578.7,577.5 L579.3,579.0 L579.9,580.4 L580.4,581.7 L581.0,583.2 L581.5,584.5 L582.1,586.0 L582.6,587.3 L583.2,588.7 L583.8,590.2 L584.3,591.6 L584.8,593.0 L585.3,594.4 L585.9,595.8 L586.4,597.2 L586.9,598.7 L587.4,600.1 L587.9,601.4 L588.4,602.8 L588.9,604.3 L589.4,605.6 L589.9,607.1 L590.3,608.4 L590.9,610.0 L591.3,611.3 L591.8,612.9 L592.3,614.2 L592.7,615.6 L593.2,617.2 L593.7,618.5 L594.1,619.9 L594.6,621.3 L595.0,622.7 L595.5,624.1 L595.9,625.6 L596.4,627.0 L596.8,628.5 L597.3,629.9 L597.7,631.4 L598.2,632.8 L598.6,634.3 L599.1,635.8 L599.4,637.1 L599.9,638.6 L600.3,640.1 L600.7,641.3 L601.1,642.9 L601.6,644.4 L602.0,645.7 L602.4,647.3 L602.8,648.6 L603.2,650.1 L603.6,651.4 L604.0,653.0 L604.4,654.4 L604.9,656.0 L605.2,657.3 L605.6,658.6 L606.1,660.3 L606.4,661.6 L606.8,663.0 L607.3,664.6 L607.6,666.0 L608.0,667.4 L608.4,668.8 L608.8,670.5 L609.2,671.9 L609.6,673.3 L609.9,674.7 L610.3,676.1 L610.7,677.5 L611.1,678.9 L611.5,680.6 L611.9,682.1 L612.2,683.5 L612.6,685.0 L613.0,686.4 L613.4,687.9 L613.7,689.3 L614.1,690.8 L614.5,692.3 L614.9,693.7 L615.2,694.9 L615.5,696.4 L615.9,697.9 L616.3,699.4 L616.6,700.8 L617.0,702.3 L617.4,703.8 L617.8,705.3 L618.1,706.5 L618.4,708.1 L618.8,709.6 L619.2,711.1 L619.6,712.6 L619.9,714.1 L620.2,715.3 L620.6,716.9 L621.0,718.4 L621.3,719.9 L621.6,721.2 L622.0,722.7 L622.4,724.3 L622.7,725.5 L623.1,727.0 L623.4,728.6 L623.8,730.1 L624.1,731.4 L624.5,732.9 L624.8,734.5 L625.1,735.8 L625.5,737.3 L625.9,738.9 L626.2,740.1 L626.6,741.7 L626.9,743.3 L627.2,744.5 L627.6,746.1 L628.0,747.7 L628.3,748.9 L628.6,750.5 L628.9,751.8 L629.3,753.4 L629.7,754.9 L630.0,756.2 L630.4,757.8 L630.7,759.0 L631.0,760.6 L631.4,762.2 L631.7,763.5 L632.1,765.1 L632.5,766.7 L632.7,767.9 L633.1,769.5 L633.4,770.8 L633.8,772.4 L634.2,774.0 L634.5,775.2 L634.8,776.8 L635.1,778.1 L635.5,779.7 L635.9,781.2 L636.2,782.5 L636.6,784.1 L636.8,785.4 L637.2,787.0 L637.6,788.5 L637.9,789.8 L638.3,791.4 L638.6,792.6 L638.9,794.2 L639.3,795.8 L639.6,797.1 L640.0,798.6 L640.4,800.2 L640.7,801.5 L641.0,803.0 L641.4,804.6 L641.7,805.9 L642.1,807.4 L642.4,809.0 L642.7,810.2 L643.1,811.8 L643.5,813.4 L643.8,814.6 L644.2,816.1 L644.5,817.7 L644.8,818.9 L645.2,820.5 L645.6,822.0 L645.9,823.6 L646.2,824.8 L646.6,826.3 L647.0,827.9 L647.4,829.4 L647.7,830.6 L648.0,832.1 L648.4,833.7 L648.8,835.2 L649.1,836.4 L649.4,837.9 L649.8,839.4 L650.2,840.9 L650.6,842.4 L650.9,843.9 L651.3,845.4 L651.6,846.6 L652.0,848.1 L652.4,849.6 L652.7,851.0 L653.1,852.5 L653.5,854.0 L653.8,855.4 L654.2,856.9 L654.6,858.4 L655.0,859.8 L655.3,861.3 L655.7,862.7 L656.1,864.1 L656.5,865.6 L656.8,867.0 L657.2,868.4 L657.6,869.8 L658.0,871.5 L658.4,872.9 L658.8,874.3 L659.1,875.7 L659.5,877.1 L660.0,878.8 L660.3,880.2 L660.7,881.5 L661.1,882.9 L661.5,884.6 L661.9,885.9 L662.3,887.3 L662.7,888.9 L663.1,890.2 L663.5,891.6 L663.9,893.1 L664.3,894.5 L664.7,896.0 L665.1,897.4 L665.6,898.9 L665.9,900.2 L666.4,901.8 L666.8,903.3 L667.2,904.6 L667.6,906.1 L668.1,907.6 L668.5,908.9 L668.9,910.4 L669.4,911.9 L669.8,913.3 L670.2,914.8 L670.6,916.0 L671.1,917.5 L671.5,918.9 L672.0,920.4 L672.4,921.8 L672.9,923.2 L673.3,924.6 L673.8,926.0 L674.3,927.7 L674.7,929.0 L675.2,930.4 L675.6,931.8 L676.1,933.4 L676.6,934.7 L677.0,936.0 L677.6,937.6 L678.0,938.9 L678.5,940.4 L679.0,941.7 L679.5,943.2 L680.0,944.7 L680.5,945.9 L681.0,947.4 L681.5,948.9 L682.0,950.3 L682.6,951.7 L683.1,953.1 L683.6,954.5 L684.1,955.9 L684.6,957.3 L685.2,958.6 L685.8,960.2 L686.3,961.5 L686.8,962.8 L687.4,964.3 L687.9,965.6 L688.5,967.1 L689.0,968.4 L689.6,969.8 L690.2,971.2 L690.8,972.6 L691.4,974.0 L692.0,975.4 L692.6,976.7 L693.2,978.1 L693.8,979.4 L694.5,980.9 L695.1,982.2 L695.7,983.6 L696.3,984.9 L697.0,986.3 L697.7,987.6 L698.3,988.9 L699.0,990.2 L699.7,991.7 L700.4,993.0 L701.0,994.3 L701.7,995.5 L702.5,996.9 L703.1,998.2 L703.9,999.5 L704.6,1000.9 L705.4,1002.2 L706.1,1003.5 L706.9,1004.7 L707.7,1006.1 L708.4,1007.3 L709.2,1008.6 L710.0,1009.8 L710.8,1011.1 L711.6,1012.4 L712.4,1013.6 L713.3,1014.9 L714.2,1016.1 L715.1,1017.4 L715.9,1018.5 L716.8,1019.7 L717.7,1020.9 L718.6,1022.2 L719.5,1023.3 L720.5,1024.5 L721.4,1025.6 L722.4,1026.8 L723.3,1027.9 L724.3,1029.0 L725.3,1030.2 L726.3,1031.3 L727.4,1032.4 L728.4,1033.4 L729.4,1034.5 L730.6,1035.6 L731.6,1036.6 L732.7,1037.6 L733.8,1038.7 L735.0,1039.6 L736.1,1040.6 L737.3,1041.6 L738.4,1042.5 L739.6,1043.4 L740.8,1044.4 L742.0,1045.2 L743.2,1046.1 L744.4,1047.0 L745.7,1047.8 L746.9,1048.6 L748.2,1049.4 L749.5,1050.3 L750.8,1051.0 L752.0,1051.7 L753.4,1052.5 L754.7,1053.2 L756.0,1053.9 L757.3,1054.5 L758.7,1055.2 L760.1,1055.8 L761.4,1056.4 L762.8,1057.1 L764.2,1057.6 L765.6,1058.2 L767.0,1058.7 L768.4,1059.2 L769.8,1059.8 L771.2,1060.2 L772.6,1060.7 L774.1,1061.2 L775.5,1061.6 L776.9,1062.1 L778.4,1062.5 L779.8,1062.9 L781.3,1063.3 L782.8,1063.7 L784.2,1064.0 L785.7,1064.4 L787.1,1064.7 L788.6,1065.0 L790.1,1065.3 L791.5,1065.6 L793.0,1065.9 L794.5,1066.2 L795.9,1066.4 L797.4,1066.7 L798.9,1066.9 L800.3,1067.2 L801.8,1067.4 L803.3,1067.6 L804.8,1067.8 L806.3,1068.0 L807.8,1068.2 L809.3,1068.4 L810.8,1068.6 L812.3,1068.8 L813.8,1068.9 L815.3,1069.1 L816.7,1069.2 L818.2,1069.4 L819.7,1069.5 L821.2,1069.7 L822.7,1069.8 L824.2,1069.9 L825.7,1070.0 L827.2,1070.2 L828.7,1070.3 L830.2,1070.4 L831.7,1070.5 L833.1,1070.6 L834.7,1070.7 L836.2,1070.8 L837.7,1070.8 L839.2,1070.9 L840.7,1071.0 L842.2,1071.1 L843.7,1071.2 L845.2,1071.2 L846.6,1071.3 L848.1,1071.4 L849.6,1071.4 L851.2,1071.5 L852.7,1071.5 L854.2,1071.6 L855.7,1071.6 L857.2,1071.7 L858.6,1071.7 L860.1,1071.8 L861.6,1071.8 L863.1,1071.9 L864.7,1071.9 L866.2,1072.0 L867.7,1072.0 L869.2,1072.0 L870.7,1072.1 L872.1,1072.1 L873.6,1072.1 L875.1,1072.2 L876.6,1072.2 L878.2,1072.2 L879.7,1072.3 L881.2,1072.3 L882.7,1072.3 L884.1,1072.3 L885.6,1072.4 L887.1,1072.4 L888.6,1072.4 L890.2,1072.4 L891.7,1072.4 L893.2,1072.5 L894.7,1072.5 L896.1,1072.5 L897.6,1072.5 L899.1,1072.5 L900.6,1072.5 L902.1,1072.6 L903.7,1072.6 L905.2,1072.6 L906.7,1072.6 L908.2,1072.6 L909.6,1072.6 L911.1,1072.6 L912.6,1072.6 L914.1,1072.7 L915.7,1072.7 L917.2,1072.7 L918.7,1072.7 L920.2,1072.7 L921.6,1072.7 L923.1,1072.7 L924.6,1072.7 L926.1,1072.7 L927.6,1072.7 L929.2,1072.7 L930.7,1072.8 L932.2,1072.8 L933.6,1072.8 L935.1,1072.8 L936.6,1072.8 L938.1,1072.8 L939.6,1072.8 L941.2,1072.8 L942.7,1072.8 L944.2,1072.8 L945.7,1072.8 L947.1,1072.8 L948.6,1072.8 L950.1,1072.8 L951.6,1072.8 L953.2,1072.8 L954.7,1072.8 L956.2,1072.8 L957.7,1072.8 L959.1,1072.8 L960.6,1072.8 L962.1,1072.8 L963.6,1072.8 L965.1,1072.8 L966.7,1072.9 L968.2,1072.9 L969.7,1072.9 L971.1,1072.9 L972.6,1072.9 L974.1,1072.9 L975.6,1072.9 L977.1,1072.9 L978.7,1072.9 L980.2,1072.9 L981.7,1072.9 L983.2,1072.9 L984.6,1072.9 L986.1,1072.9 L987.6,1072.9 L989.1,1072.9 L990.7,1072.9 L992.2,1072.9 L993.7,1072.9 L995.2,1072.9 L996.6,1072.9 L998.1,1072.9 L999.6,1072.9 L1001.1,1072.9 L1002.6,1072.9 L1004.2,1072.9 L1005.7,1072.9 L1007.2,1072.9 L1008.6,1072.9 L1010.1,1072.9 L1011.6,1072.9 L1013.1,1072.9 L1014.6,1072.9 L1016.2,1072.9 L1017.7,1072.9 L1019.2,1072.9 L1020.7,1072.9 L1022.1,1072.9 L1023.6,1072.9 L1025.1,1072.9 L1026.6,1072.9 L1028.2,1072.9 L1029.7,1072.9 L1031.2,1072.9 L1032.7,1072.9 L1034.1,1072.9 L1035.6,1072.9 L1037.1,1072.9 L1038.6,1072.9 L1040.1,1072.9 L1041.7,1072.9 L1043.2,1072.9 L1044.7,1072.9 L1046.1,1072.9 L1047.6,1072.9 L1049.1,1072.9 L1050.6,1072.9 L1052.1,1072.9 L1053.7,1072.9 L1055.2,1072.9 L1056.7,1072.9 L1058.2,1072.9 L1059.6,1072.9 L1061.1,1072.9 L1062.6,1072.9 L1064.1,1072.9 L1065.7,1072.9 L1067.2,1072.9 L1068.7,1072.9 L1070.2,1072.9 L1071.6,1072.9 L1073.1,1072.9 L1074.6,1072.9 L1076.1,1072.9 L1077.6,1072.9 L1079.2,1072.9 L1080.7,1072.9 L1082.2,1072.9 L1083.7,1072.9 L1085.1,1072.9 L1086.6,1072.9 L1088.1,1072.9 L1089.6,1072.9 L1091.2,1072.9 L1092.7,1072.9 L1094.2,1072.9 L1095.7,1072.9 L1097.1,1072.9 L1098.6,1072.9 L1100.1,1072.9 L1101.6,1072.9 L1103.2,1072.9 L1104.7,1072.9 L1106.2,1072.9 L1107.7,1072.9 L1109.1,1072.9 L1110.6,1072.9 L1112.1,1072.9 L1113.6,1072.9 L1115.1,1072.9 L1116.7,1072.9 L1118.2,1072.9 L1119.7,1072.9 L1121.2,1072.9 L1122.6,1072.9 L1124.1,1072.9 L1125.6,1072.9 L1127.1,1072.9 L1128.7,1072.9 L1130.2,1072.9 L1131.7,1072.9 L1133.2,1072.9 L1134.6,1072.9 L1136.1,1072.9 L1137.6,1072.9 L1139.1,1072.9 L1140.6,1072.9 L1142.2,1072.9 L1143.7,1072.9 L1145.2,1072.9 L1146.6,1072.9 L1148.1,1072.9 L1149.6,1072.9 L1151.1,1072.9 L1152.6,1072.9 L1154.2,1072.9 L1155.7,1072.9 L1157.2,1072.9 L1158.7,1072.9 L1160.1,1072.9 L1161.6,1072.9 L1163.1,1072.9 L1164.6,1072.9 L1166.2,1072.9 L1167.7,1072.9 L1169.2,1072.9 L1170.7,1072.9 L1172.1,1072.9 L1173.6,1072.9 L1175.1,1072.9 L1176.6,1072.9 L1178.1,1072.9 L1179.7,1072.9 L1181.2,1072.9 L1182.7,1072.9 L1184.1,1072.9 L1185.6,1072.9 L1187.1,1072.9 L1188.6,1072.9 L1190.1,1072.9 L1191.7,1072.9 L1193.2,1072.9 L1194.7,1072.9 L1196.2,1072.9 L1197.6,1072.9 L1199.1,1072.9 L1200.6,1072.9 L1202.1,1072.9 L1203.7,1072.9 L1205.2,1072.9 L1206.7,1072.9 L1208.2,1072.9 L1209.6,1072.9 L1211.1,1072.9 L1212.6,1072.9 L1214.1,1072.9 L1215.6,1072.9 L1217.2,1072.9 L1218.7,1072.9 L1220.2,1072.9 L1221.6,1072.9 L1223.1,1072.9 L1224.6,1072.9 L1226.1,1072.9 L1227.6,1072.9 L1229.2,1072.9 L1230.7,1072.9 L1232.2,1072.9 L1233.7,1072.9 L1235.1,1072.9 L1236.6,1072.9 L1238.1,1072.9 L1239.6,1072.9 L1241.2,1072.9 L1242.7,1072.9 L1244.2,1072.9 L1245.7,1072.9 L1247.1,1072.9 L1248.6,1072.9 L1250.1,1072.9 L1251.6,1072.9 L1253.1,1072.9 L1254.7,1072.9 L1256.2,1072.9 L1257.7,1072.9 L1259.1,1072.9 L1260.6,1072.9 L1262.1,1072.9 L1263.6,1072.9 L1265.1,1072.9 L1266.7,1072.9 L1268.2,1072.9 L1269.7,1072.9 L1271.2,1072.9 L1272.6,1072.9 L1274.1,1072.9 L1275.6,1072.9 L1277.1,1072.9 L1278.7,1072.9 L1280.2,1072.9 L1281.7,1072.9 L1283.2,1072.9 L1284.6,1072.9 L1286.1,1072.9 L1287.6,1072.9 L1289.1,1072.9 L1290.6,1072.9 L1292.2,1072.9 L1293.7,1072.9 L1295.2,1072.9 L1296.7,1072.9 L1298.1,1072.9 L1299.6,1072.9 L1301.1,1072.9 L1302.6,1072.9 L1304.2,1072.9 L1305.7,1072.9 L1307.2,1072.9 L1308.7,1072.9 L1310.1,1072.9 L1311.6,1072.9 L1313.1,1072.9 L1314.6,1072.9 L1316.2,1072.9 L1317.7,1072.9 L1319.2,1072.9 L1320.7,1072.9 L1322.1,1072.9 L1323.6,1072.9 L1325.1,1072.9 L1326.6,1072.9 L1328.1,1072.9 L1329.7,1072.9 L1331.2,1072.9 L1332.7,1072.9 L1334.2,1072.9 L1335.6,1072.9 L1337.1,1072.9 L1338.6,1072.9 L1340.1,1072.9 L1341.7,1072.9 L1343.2,1072.9 L1344.7,1072.9 L1346.2,1072.9 L1347.6,1072.9 L1349.1,1072.9 L1350.6,1072.9 L1352.1,1072.9 L1353.6,1072.9 L1355.2,1072.9 L1356.7,1072.9 L1358.2,1072.9 L1359.6,1072.9 L1361.1,1072.9 L1362.6,1072.9 L1364.1,1072.9 L1365.6,1072.9 L1367.2,1072.9 L1368.7,1072.9 L1370.2,1072.9 L1371.7,1072.9 L1373.1,1072.9 L1374.6,1072.9 L1376.1,1072.9 L1377.6,1072.9 L1379.2,1072.9 L1380.7,1072.9 L1382.2,1072.9 L1383.7,1072.9 L1385.1,1072.9 L1386.6,1072.9 L1388.1,1072.9 L1389.6,1072.9 L1391.1,1072.9 L1392.7,1072.9 L1394.2,1072.9 L1395.7,1072.9 L1397.1,1072.9 L1398.6,1072.9 L1400.1,1072.9 L1401.6,1072.9 L1403.1,1072.9 L1404.7,1072.9 L1406.2,1072.9 L1407.7,1072.9 L1409.2,1072.9 L1410.6,1072.9 L1412.1,1072.9 L1413.6,1072.9 L1415.1,1072.9 L1416.7,1072.9 L1418.2,1072.9 L1419.7,1072.9 L1421.2,1072.9 L1422.6,1072.9 L1424.1,1072.9 L1425.6,1072.9 L1427.1,1072.9 L1428.6,1072.9 L1430.2,1072.9 L1431.7,1072.9 L1433.2,1072.9 L1434.6,1072.9 L1436.1,1072.9 L1437.6,1072.9 L1439.1,1072.9 L1440.6,1072.9 L1442.2,1072.9 L1443.7,1072.9 L1445.2,1072.9 L1446.7,1072.9 L1448.1,1072.9 L1449.6,1072.9 L1451.1,1072.9 L1452.6,1072.9 L1454.2,1072.9 L1455.7,1072.9 L1457.2,1072.9 L1458.7,1072.9 L1460.1,1072.9 L1461.6,1072.9 L1463.1,1072.9 L1464.6,1072.9 L1466.1,1072.9 L1467.7,1072.9 L1469.2,1072.9 L1470.7,1072.9 L1472.1,1072.9 L1473.6,1072.9 L1475.1,1072.9 L1476.6,1072.9 L1478.1,1072.9 L1479.7,1072.9 L1481.2,1072.9 L1482.7,1072.9 L1484.2,1072.9 L1485.6,1072.9 L1487.1,1072.9 L1488.6,1072.9 L1490.1,1072.9 L1491.7,1072.9 L1493.2,1072.9 L1494.7,1072.9 L1496.2,1072.9 L1497.6,1072.9 L1499.1,1072.9 L1500.6,1072.9 L1502.1,1072.9 L1503.6,1072.9 L1505.2,1072.9 L1506.7,1072.9 L1508.2,1072.9 L1509.7,1072.9 L1511.1,1072.9 L1512.6,1072.9 L1514.1,1072.9 L1515.6,1072.9 L1517.2,1072.9 L1518.7,1072.9 L1520.2,1072.9 L1521.7,1072.9 L1523.1,1072.9 L1524.6,1072.9 L1526.1,1072.9 L1527.6,1072.9 L1529.2,1072.9 L1530.7,1072.9 L1532.2,1072.9 L1533.7,1072.9 L1535.1,1072.9 L1536.6,1072.9 L1538.1,1072.9 L1539.6,1072.9 L1541.1,1072.9 L1542.7,1072.9 L1544.2,1072.9 L1545.7,1072.9 L1547.2,1072.9 L1548.6,1072.9 L1550.1,1072.9 L1551.6,1072.9 L1553.1,1072.9 L1554.7,1072.9 L1556.2,1072.9 L1557.7,1072.9 L1559.2,1072.9 L1560.6,1072.9 L1562.1,1072.9 L1563.6,1072.9 L1565.1,1072.9 L1566.6,1072.9 L1568.2,1072.9 L1569.7,1072.9 L1571.2,1072.9 L1572.6,1072.9 L1574.1,1072.9 L1575.6,1072.9 L1577.1,1072.9 L1578.6,1072.9 L1580.2,1072.9 L1581.7,1072.9 L1583.2,1072.9 L1584.7,1072.9 L1586.1,1072.9 L1587.6,1072.9 L1589.1,1072.9 L1590.6,1072.9 L1592.2,1072.9 L1593.7,1072.9 L1595.2,1072.9 L1596.7,1072.9 L1598.1,1072.9 L1599.6,1072.9 L1601.1,1072.9 L1602.6,1072.9 L1604.1,1072.9 L1605.7,1072.9 L1607.2,1072.9 L1608.7,1072.9 L1610.1,1072.9 L1611.6,1072.9 L1613.1,1072.9 L1614.6,1072.9 L1616.1,1072.9 L1617.7,1072.9 L1619.2,1072.9 L1620.7,1072.9 L1622.2,1072.9 L1623.6,1072.9 L1625.1,1072.9 L1626.6,1072.9 L1628.1,1072.9 L1629.7,1072.9 L1631.2,1072.9 L1632.7,1072.9 L1634.2,1072.9 L1635.6,1072.9 L1637.1,1072.9 L1638.6,1072.9 L1640.1,1072.9 L1641.6,1072.9 L1643.2,1072.9 L1644.7,1072.9 L1646.2,1072.9 L1647.6,1072.9 L1649.1,1072.9 L1650.6,1072.9 L1652.1,1072.9 L1653.6,1072.9 L1655.2,1072.9 L1656.7,1072.9 L1658.2,1072.9 L1659.7,1072.9 L1661.1,1072.9 L1662.6,1072.9 L1664.1,1072.9 L1665.6,1072.9 L1667.2,1072.9 L1668.7,1072.9 L1670.2,1072.9 L1671.7,1072.9 L1673.1,1072.9 L1674.6,1072.9 L1676.1,1072.9 L1677.6,1072.9 L1679.1,1072.9 L1680.7,1072.9 L1682.2,1072.9 L1683.7,1072.9 L1685.1,1072.9 L1686.6,1072.9 L1688.1,1072.9 L1689.6,1072.9 L1691.1,1072.9 L1692.7,1072.9 L1694.2,1072.9 L1695.7,1072.9 L1697.2,1072.9 L1698.6,1072.9 L1700.1,1072.9 L1701.6,1072.9 L1703.1,1072.9 L1704.7,1072.9 L1706.2,1072.9 L1707.7,1072.9 L1709.2,1072.9 L1710.6,1072.9 L1712.1,1072.9 L1713.6,1072.9 L1715.1,1072.9 L1716.6,1072.9 L1718.2,1072.9 L1719.7,1072.9 L1721.2,1072.9 L1722.7,1072.9 L1724.1,1072.9 L1725.6,1072.9 L1727.1,1072.9 L1728.6,1072.9 L1730.2,1072.9 L1731.7,1072.9 L1733.2,1072.9 L1734.7,1072.9 L1736.1,1072.9 L1737.6,1072.9 L1739.1,1072.9 L1740.6,1072.9 L1742.2,1072.9 L1743.7,1072.9 L1745.2,1072.9 L1746.7,1072.9 L1748.1,1072.9 L1749.6,1072.9 L1751.1,1072.9 L1752.6,1072.9 L1754.1,1072.9 L1755.7,1072.9 L1757.2,1072.9 L1758.7,1072.9 L1760.2,1072.9 L1761.6,1072.9 L1763.1,1072.9 L1764.6,1072.9 L1766.1,1072.9 L1767.7,1072.9 L1769.2,1072.9 L1770.7,1072.9 L1772.2,1072.9 L1773.6,1072.9 L1775.1,1072.9 L1776.6,1072.9 L1777.0,1072.9" stroke="#ff00ff"/>
</g>
<g stroke="#000" fill="none" stroke-linecap="butt">
<line x1="286.0" y1="109.3" x2="286.0" y2="1357.8" stroke-width="5"/>
<line x1="259.0" y1="1333.6" x2="1777.4" y2="1333.6" stroke-width="5"/>
<line x1="259.0" y1="1333.6" x2="286.0" y2="1333.6" stroke-width="4.6"/>
<line x1="270.4" y1="1261.7" x2="286.0" y2="1261.7" stroke-width="4.6"/>
<line x1="259.0" y1="1189.8" x2="286.0" y2="1189.8" stroke-width="4.6"/>
<line x1="270.4" y1="1118.0" x2="286.0" y2="1118.0" stroke-width="4.6"/>
<line x1="259.0" y1="1046.1" x2="286.0" y2="1046.1" stroke-width="4.6"/>
<line x1="270.4" y1="974.2" x2="286.0" y2="974.2" stroke-width="4.6"/>
<line x1="259.0" y1="902.3" x2="286.0" y2="902.3" stroke-width="4.6"/>
<line x1="270.4" y1="830.4" x2="286.0" y2="830.4" stroke-width="4.6"/>
<line x1="259.0" y1="758.5" x2="286.0" y2="758.5" stroke-width="4.6"/>
<line x1="270.4" y1="686.7" x2="286.0" y2="686.7" stroke-width="4.6"/>
<line x1="259.0" y1="614.8" x2="286.0" y2="614.8" stroke-width="4.6"/>
<line x1="270.4" y1="542.9" x2="286.0" y2="542.9" stroke-width="4.6"/>
<line x1="259.0" y1="471.0" x2="286.0" y2="471.0" stroke-width="4.6"/>
<line x1="270.4" y1="399.1" x2="286.0" y2="399.1" stroke-width="4.6"/>
<line x1="259.0" y1="327.3" x2="286.0" y2="327.3" stroke-width="4.6"/>
<line x1="270.4" y1="255.4" x2="286.0" y2="255.4" stroke-width="4.6"/>
<line x1="259.0" y1="183.5" x2="286.0" y2="183.5" stroke-width="4.6"/>
<line x1="270.4" y1="111.6" x2="286.0" y2="111.6" stroke-width="4.6"/>
<line x1="286.0" y1="1333.6" x2="286.0" y2="1357.8" stroke-width="4.6"/>
<line x1="360.4" y1="1333.6" x2="360.4" y2="1347.1" stroke-width="4.6"/>
<line x1="434.9" y1="1333.6" x2="434.9" y2="1357.8" stroke-width="4.6"/>
<line x1="509.4" y1="1333.6" x2="509.4" y2="1347.1" stroke-width="4.6"/>
<line x1="583.8" y1="1333.6" x2="583.8" y2="1357.8" stroke-width="4.6"/>
<line x1="658.2" y1="1333.6" x2="658.2" y2="1347.1" stroke-width="4.6"/>
<line x1="732.7" y1="1333.6" x2="732.7" y2="1357.8" stroke-width="4.6"/>
<line x1="807.1" y1="1333.6" x2="807.1" y2="1347.1" stroke-width="4.6"/>
<line x1="881.6" y1="1333.6" x2="881.6" y2="1357.8" stroke-width="4.6"/>
<line x1="956.0" y1="1333.6" x2="956.0" y2="1347.1" stroke-width="4.6"/>
<line x1="1030.5" y1="1333.6" x2="1030.5" y2="1357.8" stroke-width="4.6"/>
<line x1="1105.0" y1="1333.6" x2="1105.0" y2="1347.1" stroke-width="4.6"/>
<line x1="1179.4" y1="1333.6" x2="1179.4" y2="1357.8" stroke-width="4.6"/>
<line x1="1253.8" y1="1333.6" x2="1253.8" y2="1347.1" stroke-width="4.6"/>
<line x1="1328.3" y1="1333.6" x2="1328.3" y2="1357.8" stroke-width="4.6"/>
<line x1="1402.8" y1="1333.6" x2="1402.8" y2="1347.1" stroke-width="4.6"/>
<line x1="1477.2" y1="1333.6" x2="1477.2" y2="1357.8" stroke-width="4.6"/>
<line x1="1551.7" y1="1333.6" x2="1551.7" y2="1347.1" stroke-width="4.6"/>
<line x1="1626.1" y1="1333.6" x2="1626.1" y2="1357.8" stroke-width="4.6"/>
<line x1="1700.5" y1="1333.6" x2="1700.5" y2="1347.1" stroke-width="4.6"/>
<line x1="1775.0" y1="1333.6" x2="1775.0" y2="1357.8" stroke-width="4.6"/>
</g>
<g font-size="53.5" text-anchor="end">
<text x="242" y="1345.8">0.0</text>
<text x="242" y="1202.0">0.1</text>
<text x="242" y="1058.3">0.2</text>
<text x="242" y="914.5">0.3</text>
<text x="242" y="770.8">0.4</text>
<text x="242" y="627.0">0.5</text>
<text x="242" y="483.2">0.6</text>
<text x="242" y="339.5">0.7</text>
<text x="242" y="195.7">0.8</text>
</g>
<g font-size="53.5" text-anchor="middle">
<text x="285.5" y="1414.2">250</text>
<text x="434.4" y="1414.2">300</text>
<text x="583.3" y="1414.2">350</text>
<text x="732.2" y="1414.2">400</text>
<text x="881.1" y="1414.2">450</text>
<text x="1030.0" y="1414.2">500</text>
<text x="1178.9" y="1414.2">550</text>
<text x="1327.8" y="1414.2">600</text>
<text x="1476.7" y="1414.2">650</text>
<text x="1625.6" y="1414.2">700</text>
<text x="1774.5" y="1414.2">750</text>
</g>
<text x="1030" y="1520.7" font-size="66" text-anchor="middle">Wavelength (nm)</text>
<text transform="translate(67.5,766.8) rotate(-90)" font-size="66" text-anchor="middle">Absorption (a.u)</text>
<g stroke-width="2.7" stroke-linecap="square"><line x1="800" y1="23.6" x2="2040.4" y2="23.6" stroke="#000"/><line x1="800" y1="23.6" x2="800" y2="348.2" stroke="#000"/><line x1="2040.4" y1="23.6" x2="2040.4" y2="348.2" stroke="#9c9ca4"/><line x1="800" y1="348.2" x2="2040.4" y2="348.2" stroke="#4a4a4a"/></g>
<line x1="830.5" y1="68.8" x2="979.8" y2="68.8" stroke="#000000" stroke-width="8.6" stroke-linecap="round"/>
<text x="996" y="90.3" font-size="66">ZnO</text>
<line x1="830.5" y1="150.2" x2="979.8" y2="150.2" stroke="#ff0000" stroke-width="8.6" stroke-linecap="round"/>
<text x="996" y="171.6" font-size="66">1% Mn-ZnO</text>
<line x1="830.5" y1="230.9" x2="979.8" y2="230.9" stroke="#0000ff" stroke-width="8.6" stroke-linecap="round"/>
<text x="996" y="252.8" font-size="66">(1% Mn &amp; 1% La) co-doped ZnO</text>
<line x1="830.5" y1="312.0" x2="979.8" y2="312.0" stroke="#ff00ff" stroke-width="8.6" stroke-linecap="round"/>
<text x="996" y="332.7" font-size="66">(1% Mn &amp; 1.5% La) co-doped ZnO</text>
</svg>
</body></html>
